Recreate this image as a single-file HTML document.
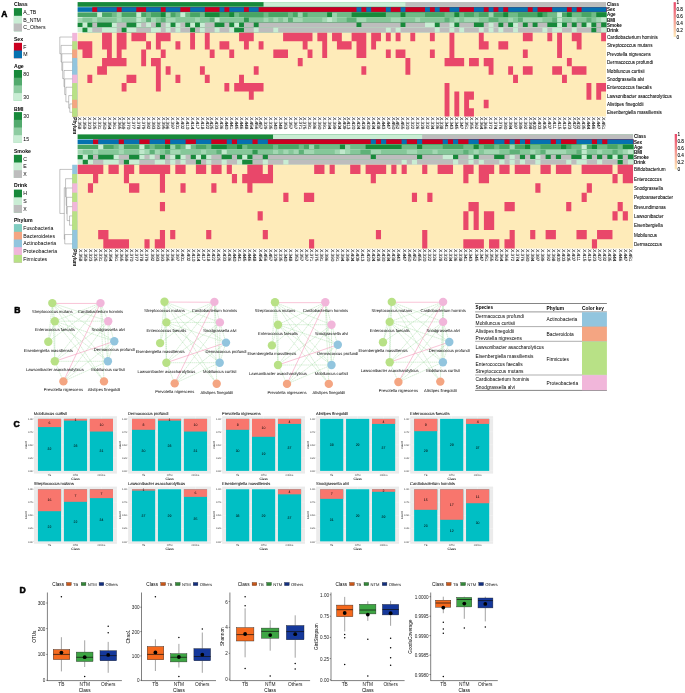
<!DOCTYPE html>
<html lang="en"><head><meta charset="utf-8"><title>Figure</title>
<style>html,body{margin:0;padding:0;background:#fff}body{width:685px;height:693px;overflow:hidden}svg{display:block}text{font-family:"Liberation Sans", Arial, sans-serif}.p{text-rendering:geometricPrecision}</style>
</head><body>
<svg width="685" height="693" viewBox="0 0 685 693">
<defs><linearGradient id="hg" x1="0" y1="0" x2="0" y2="1"><stop offset="0" stop-color="#E9476A"/><stop offset="1" stop-color="#FEEBB9"/></linearGradient></defs>
<rect width="685" height="693" fill="#fff"/>
<text x="1.2" y="17" font-size="8.5" font-weight="bold" font-family="'Liberation Sans', Arial, sans-serif" stroke="#000" stroke-width="0.55" stroke-linejoin="round">A</text>
<text x="14.2" y="313" font-size="8.6" font-weight="bold" font-family="'Liberation Sans', Arial, sans-serif" stroke="#000" stroke-width="0.55" stroke-linejoin="round">B</text>
<text x="13.5" y="426.6" font-size="8.6" font-weight="bold" font-family="'Liberation Sans', Arial, sans-serif" stroke="#000" stroke-width="0.55" stroke-linejoin="round">C</text>
<text x="19.6" y="593.1" font-size="8.6" font-weight="bold" font-family="'Liberation Sans', Arial, sans-serif" stroke="#000" stroke-width="0.55" stroke-linejoin="round">D</text>
<text x="13.9" y="6.07" font-size="5.2" font-weight="bold">Class</text>
<rect x="13.9" y="8.1" width="8.1" height="23.1" fill="#17893A"/>
<text x="23.3" y="13.82" font-size="5.2">A_TB</text>
<rect x="13.9" y="15.8" width="8.1" height="15.4" fill="#C9EDD4"/>
<text x="23.3" y="21.52" font-size="5.2">B_NTM</text>
<rect x="13.9" y="23.5" width="8.1" height="7.7" fill="#BDBDBD"/>
<text x="23.3" y="29.22" font-size="5.2">C_Others</text>
<text x="13.9" y="40.67" font-size="5.2" font-weight="bold">Sex</text>
<rect x="13.9" y="42.8" width="8.1" height="15.4" fill="#CA0020"/>
<text x="23.3" y="48.52" font-size="5.2">F</text>
<rect x="13.9" y="50.5" width="8.1" height="7.7" fill="#0571B0"/>
<text x="23.3" y="56.22" font-size="5.2">M</text>
<text x="13.9" y="68.07" font-size="5.2" font-weight="bold">Age</text>
<rect x="13.9" y="70" width="8.1" height="30.8" fill="#17893A"/>
<text x="23.3" y="75.72" font-size="5.2">80</text>
<rect x="13.9" y="77.7" width="8.1" height="23.1" fill="#52AA6D"/>
<rect x="13.9" y="85.4" width="8.1" height="15.4" fill="#8ECCA1"/>
<rect x="13.9" y="93.1" width="8.1" height="7.7" fill="#C9EDD4"/>
<text x="23.3" y="98.82" font-size="5.2">30</text>
<text x="13.9" y="110.57" font-size="5.2" font-weight="bold">BMI</text>
<rect x="13.9" y="112.1" width="8.1" height="30.8" fill="#17893A"/>
<text x="23.3" y="117.82" font-size="5.2">30</text>
<rect x="13.9" y="119.8" width="8.1" height="23.1" fill="#52AA6D"/>
<rect x="13.9" y="127.5" width="8.1" height="15.4" fill="#8ECCA1"/>
<rect x="13.9" y="135.2" width="8.1" height="7.7" fill="#C9EDD4"/>
<text x="23.3" y="140.92" font-size="5.2">15</text>
<text x="13.9" y="152.87" font-size="5.2" font-weight="bold">Smoke</text>
<rect x="13.9" y="154.8" width="8.1" height="23.1" fill="#17893A"/>
<text x="23.3" y="160.52" font-size="5.2">C</text>
<rect x="13.9" y="162.5" width="8.1" height="15.4" fill="#C9EDD4"/>
<text x="23.3" y="168.22" font-size="5.2">E</text>
<rect x="13.9" y="170.2" width="8.1" height="7.7" fill="#BDBDBD"/>
<text x="23.3" y="175.92" font-size="5.2">X</text>
<text x="13.9" y="187.37" font-size="5.2" font-weight="bold">Drink</text>
<rect x="13.9" y="189.6" width="8.1" height="23.1" fill="#17893A"/>
<text x="23.3" y="195.32" font-size="5.2">H</text>
<rect x="13.9" y="197.3" width="8.1" height="15.4" fill="#C9EDD4"/>
<text x="23.3" y="203.02" font-size="5.2">S</text>
<rect x="13.9" y="205" width="8.1" height="7.7" fill="#BDBDBD"/>
<text x="23.3" y="210.72" font-size="5.2">X</text>
<text x="13.9" y="222.17" font-size="5.2" font-weight="bold">Phylum</text>
<rect x="13.9" y="224.1" width="8.1" height="38.5" fill="#80CDC1"/>
<text x="23.3" y="229.82" font-size="5.2">Fusobacteria</text>
<rect x="13.9" y="231.8" width="8.1" height="30.8" fill="#F4A582"/>
<text x="23.3" y="237.52" font-size="5.2">Bacteroidetes</text>
<rect x="13.9" y="239.5" width="8.1" height="23.1" fill="#92C5DE"/>
<text x="23.3" y="245.22" font-size="5.2">Actinobacteria</text>
<rect x="13.9" y="247.2" width="8.1" height="15.4" fill="#F1B6DA"/>
<text x="23.3" y="252.92" font-size="5.2">Proteobacteria</text>
<rect x="13.9" y="254.9" width="8.1" height="7.7" fill="#B8E186"/>
<text x="23.3" y="260.62" font-size="5.2">Firmicutes</text>
<rect x="77.6" y="2.1" width="528.44" height="4.65" fill="#17893A"/>
<rect x="263.53" y="2.1" width="342.51" height="4.65" fill="#C9EDD4"/>
<rect x="405.43" y="2.1" width="200.61" height="4.65" fill="#BDBDBD"/>
<text x="607" y="6.15" font-size="4.5" font-weight="bold">Class</text>
<rect x="77.6" y="7.22" width="528.44" height="4.65" fill="#0571B0"/>
<rect x="92.28" y="7.22" width="513.76" height="4.65" fill="#CA0020"/>
<rect x="97.17" y="7.22" width="508.87" height="4.65" fill="#0571B0"/>
<rect x="116.74" y="7.22" width="489.3" height="4.65" fill="#CA0020"/>
<rect x="121.64" y="7.22" width="484.41" height="4.65" fill="#0571B0"/>
<rect x="136.32" y="7.22" width="469.73" height="4.65" fill="#CA0020"/>
<rect x="146.1" y="7.22" width="459.94" height="4.65" fill="#0571B0"/>
<rect x="160.78" y="7.22" width="445.26" height="4.65" fill="#CA0020"/>
<rect x="165.67" y="7.22" width="440.37" height="4.65" fill="#0571B0"/>
<rect x="180.35" y="7.22" width="425.69" height="4.65" fill="#CA0020"/>
<rect x="190.14" y="7.22" width="415.9" height="4.65" fill="#0571B0"/>
<rect x="204.82" y="7.22" width="401.23" height="4.65" fill="#CA0020"/>
<rect x="219.5" y="7.22" width="386.55" height="4.65" fill="#0571B0"/>
<rect x="224.39" y="7.22" width="381.65" height="4.65" fill="#CA0020"/>
<rect x="229.28" y="7.22" width="376.76" height="4.65" fill="#0571B0"/>
<rect x="243.96" y="7.22" width="362.08" height="4.65" fill="#CA0020"/>
<rect x="248.85" y="7.22" width="357.19" height="4.65" fill="#0571B0"/>
<rect x="258.64" y="7.22" width="347.4" height="4.65" fill="#CA0020"/>
<rect x="356.5" y="7.22" width="249.54" height="4.65" fill="#0571B0"/>
<rect x="361.39" y="7.22" width="244.65" height="4.65" fill="#CA0020"/>
<rect x="366.29" y="7.22" width="239.76" height="4.65" fill="#0571B0"/>
<rect x="371.18" y="7.22" width="234.86" height="4.65" fill="#CA0020"/>
<rect x="385.86" y="7.22" width="220.18" height="4.65" fill="#0571B0"/>
<rect x="390.75" y="7.22" width="215.29" height="4.65" fill="#CA0020"/>
<rect x="400.54" y="7.22" width="205.51" height="4.65" fill="#0571B0"/>
<rect x="405.43" y="7.22" width="200.61" height="4.65" fill="#CA0020"/>
<rect x="425" y="7.22" width="181.04" height="4.65" fill="#0571B0"/>
<rect x="429.9" y="7.22" width="176.15" height="4.65" fill="#CA0020"/>
<rect x="434.79" y="7.22" width="171.25" height="4.65" fill="#0571B0"/>
<rect x="439.68" y="7.22" width="166.36" height="4.65" fill="#CA0020"/>
<rect x="449.47" y="7.22" width="156.58" height="4.65" fill="#0571B0"/>
<rect x="459.25" y="7.22" width="146.79" height="4.65" fill="#CA0020"/>
<rect x="473.93" y="7.22" width="132.11" height="4.65" fill="#0571B0"/>
<rect x="483.72" y="7.22" width="122.33" height="4.65" fill="#CA0020"/>
<rect x="488.61" y="7.22" width="117.43" height="4.65" fill="#0571B0"/>
<rect x="493.5" y="7.22" width="112.54" height="4.65" fill="#CA0020"/>
<rect x="498.4" y="7.22" width="107.65" height="4.65" fill="#0571B0"/>
<rect x="503.29" y="7.22" width="102.75" height="4.65" fill="#CA0020"/>
<rect x="508.18" y="7.22" width="97.86" height="4.65" fill="#0571B0"/>
<rect x="527.76" y="7.22" width="78.29" height="4.65" fill="#CA0020"/>
<rect x="532.65" y="7.22" width="73.39" height="4.65" fill="#0571B0"/>
<rect x="537.54" y="7.22" width="68.5" height="4.65" fill="#CA0020"/>
<rect x="552.22" y="7.22" width="53.82" height="4.65" fill="#0571B0"/>
<rect x="566.9" y="7.22" width="39.14" height="4.65" fill="#CA0020"/>
<rect x="571.79" y="7.22" width="34.25" height="4.65" fill="#0571B0"/>
<rect x="576.69" y="7.22" width="29.36" height="4.65" fill="#CA0020"/>
<rect x="581.58" y="7.22" width="24.47" height="4.65" fill="#0571B0"/>
<text x="607" y="11.27" font-size="4.5" font-weight="bold">Sex</text>
<rect x="77.6" y="12.34" width="528.44" height="4.65" fill="#49A565"/>
<rect x="97.17" y="12.34" width="508.87" height="4.65" fill="#C9EDD4"/>
<rect x="102.06" y="12.34" width="503.98" height="4.65" fill="#49A565"/>
<rect x="111.85" y="12.34" width="494.19" height="4.65" fill="#70BB87"/>
<rect x="116.74" y="12.34" width="489.3" height="4.65" fill="#9CD4AE"/>
<rect x="121.64" y="12.34" width="484.41" height="4.65" fill="#49A565"/>
<rect x="136.32" y="12.34" width="469.73" height="4.65" fill="#C9EDD4"/>
<rect x="141.21" y="12.34" width="464.83" height="4.65" fill="#49A565"/>
<rect x="146.1" y="12.34" width="459.94" height="4.65" fill="#70BB87"/>
<rect x="151" y="12.34" width="455.05" height="4.65" fill="#49A565"/>
<rect x="160.78" y="12.34" width="445.26" height="4.65" fill="#17893A"/>
<rect x="165.67" y="12.34" width="440.37" height="4.65" fill="#9CD4AE"/>
<rect x="170.57" y="12.34" width="435.48" height="4.65" fill="#49A565"/>
<rect x="175.46" y="12.34" width="430.58" height="4.65" fill="#70BB87"/>
<rect x="180.35" y="12.34" width="425.69" height="4.65" fill="#C9EDD4"/>
<rect x="185.25" y="12.34" width="420.8" height="4.65" fill="#70BB87"/>
<rect x="190.14" y="12.34" width="415.9" height="4.65" fill="#49A565"/>
<rect x="199.92" y="12.34" width="406.12" height="4.65" fill="#70BB87"/>
<rect x="204.82" y="12.34" width="401.23" height="4.65" fill="#17893A"/>
<rect x="219.5" y="12.34" width="386.55" height="4.65" fill="#49A565"/>
<rect x="229.28" y="12.34" width="376.76" height="4.65" fill="#17893A"/>
<rect x="234.18" y="12.34" width="371.87" height="4.65" fill="#70BB87"/>
<rect x="239.07" y="12.34" width="366.98" height="4.65" fill="#49A565"/>
<rect x="263.53" y="12.34" width="342.51" height="4.65" fill="#70BB87"/>
<rect x="268.43" y="12.34" width="337.62" height="4.65" fill="#49A565"/>
<rect x="288" y="12.34" width="318.04" height="4.65" fill="#70BB87"/>
<rect x="292.89" y="12.34" width="313.15" height="4.65" fill="#49A565"/>
<rect x="297.78" y="12.34" width="308.26" height="4.65" fill="#9CD4AE"/>
<rect x="302.68" y="12.34" width="303.37" height="4.65" fill="#49A565"/>
<rect x="307.57" y="12.34" width="298.47" height="4.65" fill="#70BB87"/>
<rect x="327.14" y="12.34" width="278.9" height="4.65" fill="#17893A"/>
<rect x="332.04" y="12.34" width="274.01" height="4.65" fill="#9CD4AE"/>
<rect x="336.93" y="12.34" width="269.12" height="4.65" fill="#70BB87"/>
<rect x="351.61" y="12.34" width="254.44" height="4.65" fill="#17893A"/>
<rect x="385.86" y="12.34" width="220.18" height="4.65" fill="#70BB87"/>
<rect x="400.54" y="12.34" width="205.51" height="4.65" fill="#17893A"/>
<rect x="405.43" y="12.34" width="200.61" height="4.65" fill="#70BB87"/>
<rect x="425" y="12.34" width="181.04" height="4.65" fill="#49A565"/>
<rect x="444.57" y="12.34" width="161.47" height="4.65" fill="#70BB87"/>
<rect x="454.36" y="12.34" width="151.68" height="4.65" fill="#17893A"/>
<rect x="459.25" y="12.34" width="146.79" height="4.65" fill="#70BB87"/>
<rect x="464.15" y="12.34" width="141.9" height="4.65" fill="#49A565"/>
<rect x="473.93" y="12.34" width="132.11" height="4.65" fill="#70BB87"/>
<rect x="478.83" y="12.34" width="127.22" height="4.65" fill="#49A565"/>
<rect x="488.61" y="12.34" width="117.43" height="4.65" fill="#9CD4AE"/>
<rect x="493.5" y="12.34" width="112.54" height="4.65" fill="#49A565"/>
<rect x="503.29" y="12.34" width="102.75" height="4.65" fill="#17893A"/>
<rect x="508.18" y="12.34" width="97.86" height="4.65" fill="#70BB87"/>
<rect x="517.97" y="12.34" width="88.07" height="4.65" fill="#49A565"/>
<rect x="537.54" y="12.34" width="68.5" height="4.65" fill="#17893A"/>
<rect x="542.43" y="12.34" width="63.61" height="4.65" fill="#49A565"/>
<rect x="547.33" y="12.34" width="58.72" height="4.65" fill="#70BB87"/>
<rect x="557.11" y="12.34" width="48.93" height="4.65" fill="#C9EDD4"/>
<rect x="562.01" y="12.34" width="44.04" height="4.65" fill="#49A565"/>
<rect x="566.9" y="12.34" width="39.14" height="4.65" fill="#17893A"/>
<rect x="571.79" y="12.34" width="34.25" height="4.65" fill="#70BB87"/>
<rect x="581.58" y="12.34" width="24.47" height="4.65" fill="#49A565"/>
<rect x="591.37" y="12.34" width="14.68" height="4.65" fill="#70BB87"/>
<rect x="596.26" y="12.34" width="9.79" height="4.65" fill="#17893A"/>
<text x="607" y="16.39" font-size="4.5" font-weight="bold">Age</text>
<rect x="77.6" y="17.46" width="528.44" height="4.65" fill="#A2D7B2"/>
<rect x="82.49" y="17.46" width="523.55" height="4.65" fill="#85C799"/>
<rect x="92.28" y="17.46" width="513.76" height="4.65" fill="#A2D7B2"/>
<rect x="97.17" y="17.46" width="508.87" height="4.65" fill="#85C799"/>
<rect x="116.74" y="17.46" width="489.3" height="4.65" fill="#A2D7B2"/>
<rect x="121.64" y="17.46" width="484.41" height="4.65" fill="#85C799"/>
<rect x="136.32" y="17.46" width="469.73" height="4.65" fill="#C0E8CC"/>
<rect x="141.21" y="17.46" width="464.83" height="4.65" fill="#A2D7B2"/>
<rect x="146.1" y="17.46" width="459.94" height="4.65" fill="#5EB178"/>
<rect x="151" y="17.46" width="455.05" height="4.65" fill="#A2D7B2"/>
<rect x="155.89" y="17.46" width="450.16" height="4.65" fill="#85C799"/>
<rect x="160.78" y="17.46" width="445.26" height="4.65" fill="#5EB178"/>
<rect x="165.67" y="17.46" width="440.37" height="4.65" fill="#A2D7B2"/>
<rect x="175.46" y="17.46" width="430.58" height="4.65" fill="#85C799"/>
<rect x="195.03" y="17.46" width="411.01" height="4.65" fill="#A2D7B2"/>
<rect x="199.92" y="17.46" width="406.12" height="4.65" fill="#85C799"/>
<rect x="209.71" y="17.46" width="396.33" height="4.65" fill="#5EB178"/>
<rect x="214.6" y="17.46" width="391.44" height="4.65" fill="#C0E8CC"/>
<rect x="219.5" y="17.46" width="386.55" height="4.65" fill="#85C799"/>
<rect x="243.96" y="17.46" width="362.08" height="4.65" fill="#329851"/>
<rect x="248.85" y="17.46" width="357.19" height="4.65" fill="#85C799"/>
<rect x="263.53" y="17.46" width="342.51" height="4.65" fill="#A2D7B2"/>
<rect x="268.43" y="17.46" width="337.62" height="4.65" fill="#85C799"/>
<rect x="273.32" y="17.46" width="332.72" height="4.65" fill="#A2D7B2"/>
<rect x="278.21" y="17.46" width="327.83" height="4.65" fill="#85C799"/>
<rect x="283.11" y="17.46" width="322.94" height="4.65" fill="#A2D7B2"/>
<rect x="288" y="17.46" width="318.04" height="4.65" fill="#5EB178"/>
<rect x="292.89" y="17.46" width="313.15" height="4.65" fill="#A2D7B2"/>
<rect x="302.68" y="17.46" width="303.37" height="4.65" fill="#85C799"/>
<rect x="322.25" y="17.46" width="283.79" height="4.65" fill="#A2D7B2"/>
<rect x="327.14" y="17.46" width="278.9" height="4.65" fill="#C0E8CC"/>
<rect x="332.04" y="17.46" width="274.01" height="4.65" fill="#A2D7B2"/>
<rect x="336.93" y="17.46" width="269.12" height="4.65" fill="#85C799"/>
<rect x="346.72" y="17.46" width="259.33" height="4.65" fill="#5EB178"/>
<rect x="356.5" y="17.46" width="249.54" height="4.65" fill="#A2D7B2"/>
<rect x="366.29" y="17.46" width="239.76" height="4.65" fill="#85C799"/>
<rect x="390.75" y="17.46" width="215.29" height="4.65" fill="#A2D7B2"/>
<rect x="400.54" y="17.46" width="205.51" height="4.65" fill="#85C799"/>
<rect x="415.22" y="17.46" width="190.83" height="4.65" fill="#A2D7B2"/>
<rect x="420.11" y="17.46" width="185.93" height="4.65" fill="#85C799"/>
<rect x="444.57" y="17.46" width="161.47" height="4.65" fill="#5EB178"/>
<rect x="449.47" y="17.46" width="156.58" height="4.65" fill="#85C799"/>
<rect x="454.36" y="17.46" width="151.68" height="4.65" fill="#A2D7B2"/>
<rect x="459.25" y="17.46" width="146.79" height="4.65" fill="#85C799"/>
<rect x="464.15" y="17.46" width="141.9" height="4.65" fill="#A2D7B2"/>
<rect x="478.83" y="17.46" width="127.22" height="4.65" fill="#85C799"/>
<rect x="488.61" y="17.46" width="117.43" height="4.65" fill="#5EB178"/>
<rect x="498.4" y="17.46" width="107.65" height="4.65" fill="#85C799"/>
<rect x="508.18" y="17.46" width="97.86" height="4.65" fill="#A2D7B2"/>
<rect x="513.08" y="17.46" width="92.97" height="4.65" fill="#85C799"/>
<rect x="517.97" y="17.46" width="88.07" height="4.65" fill="#5EB178"/>
<rect x="522.86" y="17.46" width="83.18" height="4.65" fill="#A2D7B2"/>
<rect x="542.43" y="17.46" width="63.61" height="4.65" fill="#85C799"/>
<rect x="552.22" y="17.46" width="53.82" height="4.65" fill="#5EB178"/>
<rect x="557.11" y="17.46" width="48.93" height="4.65" fill="#C0E8CC"/>
<rect x="562.01" y="17.46" width="44.04" height="4.65" fill="#85C799"/>
<rect x="571.79" y="17.46" width="34.25" height="4.65" fill="#A2D7B2"/>
<rect x="576.69" y="17.46" width="29.36" height="4.65" fill="#85C799"/>
<rect x="586.47" y="17.46" width="19.57" height="4.65" fill="#5EB178"/>
<rect x="591.37" y="17.46" width="14.68" height="4.65" fill="#85C799"/>
<rect x="596.26" y="17.46" width="9.79" height="4.65" fill="#A2D7B2"/>
<rect x="601.15" y="17.46" width="4.89" height="4.65" fill="#C0E8CC"/>
<text x="607" y="21.51" font-size="4.5" font-weight="bold">BMI</text>
<rect x="77.6" y="22.58" width="528.44" height="4.65" fill="#17893A"/>
<rect x="82.49" y="22.58" width="523.55" height="4.65" fill="#C9EDD4"/>
<rect x="87.39" y="22.58" width="518.66" height="4.65" fill="#17893A"/>
<rect x="92.28" y="22.58" width="513.76" height="4.65" fill="#BDBDBD"/>
<rect x="97.17" y="22.58" width="508.87" height="4.65" fill="#17893A"/>
<rect x="111.85" y="22.58" width="494.19" height="4.65" fill="#C9EDD4"/>
<rect x="116.74" y="22.58" width="489.3" height="4.65" fill="#BDBDBD"/>
<rect x="126.53" y="22.58" width="479.51" height="4.65" fill="#17893A"/>
<rect x="136.32" y="22.58" width="469.73" height="4.65" fill="#C9EDD4"/>
<rect x="141.21" y="22.58" width="464.83" height="4.65" fill="#BDBDBD"/>
<rect x="146.1" y="22.58" width="459.94" height="4.65" fill="#C9EDD4"/>
<rect x="151" y="22.58" width="455.05" height="4.65" fill="#BDBDBD"/>
<rect x="155.89" y="22.58" width="450.16" height="4.65" fill="#17893A"/>
<rect x="160.78" y="22.58" width="445.26" height="4.65" fill="#BDBDBD"/>
<rect x="165.67" y="22.58" width="440.37" height="4.65" fill="#C9EDD4"/>
<rect x="170.57" y="22.58" width="435.48" height="4.65" fill="#17893A"/>
<rect x="175.46" y="22.58" width="430.58" height="4.65" fill="#C9EDD4"/>
<rect x="180.35" y="22.58" width="425.69" height="4.65" fill="#BDBDBD"/>
<rect x="185.25" y="22.58" width="420.8" height="4.65" fill="#17893A"/>
<rect x="190.14" y="22.58" width="415.9" height="4.65" fill="#C9EDD4"/>
<rect x="195.03" y="22.58" width="411.01" height="4.65" fill="#17893A"/>
<rect x="199.92" y="22.58" width="406.12" height="4.65" fill="#C9EDD4"/>
<rect x="204.82" y="22.58" width="401.23" height="4.65" fill="#BDBDBD"/>
<rect x="214.6" y="22.58" width="391.44" height="4.65" fill="#17893A"/>
<rect x="224.39" y="22.58" width="381.65" height="4.65" fill="#BDBDBD"/>
<rect x="229.28" y="22.58" width="376.76" height="4.65" fill="#17893A"/>
<rect x="234.18" y="22.58" width="371.87" height="4.65" fill="#C9EDD4"/>
<rect x="239.07" y="22.58" width="366.98" height="4.65" fill="#17893A"/>
<rect x="243.96" y="22.58" width="362.08" height="4.65" fill="#BDBDBD"/>
<rect x="253.75" y="22.58" width="352.3" height="4.65" fill="#17893A"/>
<rect x="258.64" y="22.58" width="347.4" height="4.65" fill="#BDBDBD"/>
<rect x="356.5" y="22.58" width="249.54" height="4.65" fill="#17893A"/>
<rect x="361.39" y="22.58" width="244.65" height="4.65" fill="#BDBDBD"/>
<rect x="400.54" y="22.58" width="205.51" height="4.65" fill="#17893A"/>
<rect x="405.43" y="22.58" width="200.61" height="4.65" fill="#BDBDBD"/>
<rect x="425" y="22.58" width="181.04" height="4.65" fill="#C9EDD4"/>
<rect x="434.79" y="22.58" width="171.25" height="4.65" fill="#17893A"/>
<rect x="439.68" y="22.58" width="166.36" height="4.65" fill="#BDBDBD"/>
<rect x="449.47" y="22.58" width="156.58" height="4.65" fill="#C9EDD4"/>
<rect x="454.36" y="22.58" width="151.68" height="4.65" fill="#17893A"/>
<rect x="459.25" y="22.58" width="146.79" height="4.65" fill="#BDBDBD"/>
<rect x="473.93" y="22.58" width="132.11" height="4.65" fill="#17893A"/>
<rect x="483.72" y="22.58" width="122.33" height="4.65" fill="#BDBDBD"/>
<rect x="488.61" y="22.58" width="117.43" height="4.65" fill="#C9EDD4"/>
<rect x="493.5" y="22.58" width="112.54" height="4.65" fill="#BDBDBD"/>
<rect x="498.4" y="22.58" width="107.65" height="4.65" fill="#17893A"/>
<rect x="503.29" y="22.58" width="102.75" height="4.65" fill="#BDBDBD"/>
<rect x="508.18" y="22.58" width="97.86" height="4.65" fill="#17893A"/>
<rect x="513.08" y="22.58" width="92.97" height="4.65" fill="#C9EDD4"/>
<rect x="517.97" y="22.58" width="88.07" height="4.65" fill="#BDBDBD"/>
<rect x="522.86" y="22.58" width="83.18" height="4.65" fill="#17893A"/>
<rect x="527.76" y="22.58" width="78.29" height="4.65" fill="#BDBDBD"/>
<rect x="532.65" y="22.58" width="73.39" height="4.65" fill="#17893A"/>
<rect x="537.54" y="22.58" width="68.5" height="4.65" fill="#BDBDBD"/>
<rect x="547.33" y="22.58" width="58.72" height="4.65" fill="#17893A"/>
<rect x="557.11" y="22.58" width="48.93" height="4.65" fill="#C9EDD4"/>
<rect x="562.01" y="22.58" width="44.04" height="4.65" fill="#17893A"/>
<rect x="566.9" y="22.58" width="39.14" height="4.65" fill="#BDBDBD"/>
<rect x="571.79" y="22.58" width="34.25" height="4.65" fill="#17893A"/>
<rect x="576.69" y="22.58" width="29.36" height="4.65" fill="#BDBDBD"/>
<rect x="581.58" y="22.58" width="24.47" height="4.65" fill="#17893A"/>
<rect x="586.47" y="22.58" width="19.57" height="4.65" fill="#C9EDD4"/>
<rect x="591.37" y="22.58" width="14.68" height="4.65" fill="#17893A"/>
<rect x="596.26" y="22.58" width="9.79" height="4.65" fill="#BDBDBD"/>
<rect x="601.15" y="22.58" width="4.89" height="4.65" fill="#17893A"/>
<text x="607" y="26.63" font-size="4.5" font-weight="bold">Smoke</text>
<rect x="77.6" y="27.7" width="528.44" height="4.65" fill="#C9EDD4"/>
<rect x="82.49" y="27.7" width="523.55" height="4.65" fill="#17893A"/>
<rect x="87.39" y="27.7" width="518.66" height="4.65" fill="#C9EDD4"/>
<rect x="92.28" y="27.7" width="513.76" height="4.65" fill="#BDBDBD"/>
<rect x="102.06" y="27.7" width="503.98" height="4.65" fill="#C9EDD4"/>
<rect x="116.74" y="27.7" width="489.3" height="4.65" fill="#BDBDBD"/>
<rect x="121.64" y="27.7" width="484.41" height="4.65" fill="#17893A"/>
<rect x="126.53" y="27.7" width="479.51" height="4.65" fill="#C9EDD4"/>
<rect x="136.32" y="27.7" width="469.73" height="4.65" fill="#BDBDBD"/>
<rect x="151" y="27.7" width="455.05" height="4.65" fill="#C9EDD4"/>
<rect x="160.78" y="27.7" width="445.26" height="4.65" fill="#BDBDBD"/>
<rect x="165.67" y="27.7" width="440.37" height="4.65" fill="#C9EDD4"/>
<rect x="170.57" y="27.7" width="435.48" height="4.65" fill="#BDBDBD"/>
<rect x="175.46" y="27.7" width="430.58" height="4.65" fill="#C9EDD4"/>
<rect x="180.35" y="27.7" width="425.69" height="4.65" fill="#BDBDBD"/>
<rect x="190.14" y="27.7" width="415.9" height="4.65" fill="#17893A"/>
<rect x="195.03" y="27.7" width="411.01" height="4.65" fill="#BDBDBD"/>
<rect x="199.92" y="27.7" width="406.12" height="4.65" fill="#C9EDD4"/>
<rect x="204.82" y="27.7" width="401.23" height="4.65" fill="#BDBDBD"/>
<rect x="214.6" y="27.7" width="391.44" height="4.65" fill="#C9EDD4"/>
<rect x="219.5" y="27.7" width="386.55" height="4.65" fill="#BDBDBD"/>
<rect x="229.28" y="27.7" width="376.76" height="4.65" fill="#C9EDD4"/>
<rect x="234.18" y="27.7" width="371.87" height="4.65" fill="#17893A"/>
<rect x="243.96" y="27.7" width="362.08" height="4.65" fill="#BDBDBD"/>
<rect x="253.75" y="27.7" width="352.3" height="4.65" fill="#C9EDD4"/>
<rect x="258.64" y="27.7" width="347.4" height="4.65" fill="#BDBDBD"/>
<rect x="273.32" y="27.7" width="332.72" height="4.65" fill="#C9EDD4"/>
<rect x="278.21" y="27.7" width="327.83" height="4.65" fill="#BDBDBD"/>
<rect x="385.86" y="27.7" width="220.18" height="4.65" fill="#C9EDD4"/>
<rect x="390.75" y="27.7" width="215.29" height="4.65" fill="#BDBDBD"/>
<rect x="395.64" y="27.7" width="210.4" height="4.65" fill="#C9EDD4"/>
<rect x="400.54" y="27.7" width="205.51" height="4.65" fill="#BDBDBD"/>
<rect x="434.79" y="27.7" width="171.25" height="4.65" fill="#C9EDD4"/>
<rect x="439.68" y="27.7" width="166.36" height="4.65" fill="#BDBDBD"/>
<rect x="449.47" y="27.7" width="156.58" height="4.65" fill="#C9EDD4"/>
<rect x="454.36" y="27.7" width="151.68" height="4.65" fill="#BDBDBD"/>
<rect x="459.25" y="27.7" width="146.79" height="4.65" fill="#C9EDD4"/>
<rect x="464.15" y="27.7" width="141.9" height="4.65" fill="#BDBDBD"/>
<rect x="478.83" y="27.7" width="127.22" height="4.65" fill="#C9EDD4"/>
<rect x="483.72" y="27.7" width="122.33" height="4.65" fill="#BDBDBD"/>
<rect x="488.61" y="27.7" width="117.43" height="4.65" fill="#C9EDD4"/>
<rect x="493.5" y="27.7" width="112.54" height="4.65" fill="#BDBDBD"/>
<rect x="498.4" y="27.7" width="107.65" height="4.65" fill="#C9EDD4"/>
<rect x="503.29" y="27.7" width="102.75" height="4.65" fill="#BDBDBD"/>
<rect x="513.08" y="27.7" width="92.97" height="4.65" fill="#C9EDD4"/>
<rect x="517.97" y="27.7" width="88.07" height="4.65" fill="#BDBDBD"/>
<rect x="542.43" y="27.7" width="63.61" height="4.65" fill="#C9EDD4"/>
<rect x="547.33" y="27.7" width="58.72" height="4.65" fill="#BDBDBD"/>
<rect x="552.22" y="27.7" width="53.82" height="4.65" fill="#C9EDD4"/>
<rect x="562.01" y="27.7" width="44.04" height="4.65" fill="#BDBDBD"/>
<rect x="571.79" y="27.7" width="34.25" height="4.65" fill="#C9EDD4"/>
<rect x="576.69" y="27.7" width="29.36" height="4.65" fill="#BDBDBD"/>
<rect x="591.37" y="27.7" width="14.68" height="4.65" fill="#17893A"/>
<rect x="596.26" y="27.7" width="9.79" height="4.65" fill="#BDBDBD"/>
<rect x="601.15" y="27.7" width="4.89" height="4.65" fill="#C9EDD4"/>
<text x="607" y="31.75" font-size="4.5" font-weight="bold">Drink</text>
<rect x="77.6" y="32.85" width="528.44" height="83.65" fill="#FEEBB9"/>
<path d="M102.06 32.85h9.79v8.37h-9.79zM116.74 32.85h9.79v8.37h-9.79zM131.42 32.85h14.68v8.37h-14.68zM155.89 32.85h14.68v8.37h-14.68zM190.14 32.85h4.89v8.37h-4.89zM204.82 32.85h4.89v8.37h-4.89zM239.07 32.85h14.68v8.37h-14.68zM283.11 32.85h29.36v8.37h-29.36zM317.36 32.85h9.79v8.37h-9.79zM332.04 32.85h9.79v8.37h-9.79zM351.61 32.85h14.68v8.37h-14.68zM371.18 32.85h9.79v8.37h-9.79zM385.86 32.85h4.89v8.37h-4.89zM395.64 32.85h4.89v8.37h-4.89zM410.32 32.85h4.89v8.37h-4.89zM429.9 32.85h4.89v8.37h-4.89zM449.47 32.85h4.89v8.37h-4.89zM478.83 32.85h4.89v8.37h-4.89zM522.86 32.85h9.79v8.37h-9.79zM547.33 32.85h4.89v8.37h-4.89zM557.11 32.85h4.89v8.37h-4.89zM571.79 32.85h9.79v8.37h-9.79zM601.15 32.85h4.89v8.37h-4.89zM77.6 41.22h14.68v8.37h-14.68zM102.06 41.22h9.79v8.37h-9.79zM116.74 41.22h9.79v8.37h-9.79zM146.1 41.22h4.89v8.37h-4.89zM155.89 41.22h4.89v8.37h-4.89zM175.46 41.22h4.89v8.37h-4.89zM190.14 41.22h4.89v8.37h-4.89zM204.82 41.22h4.89v8.37h-4.89zM219.5 41.22h9.79v8.37h-9.79zM243.96 41.22h4.89v8.37h-4.89zM258.64 41.22h4.89v8.37h-4.89zM302.68 41.22h4.89v8.37h-4.89zM322.25 41.22h4.89v8.37h-4.89zM336.93 41.22h14.68v8.37h-14.68zM356.5 41.22h9.79v8.37h-9.79zM371.18 41.22h4.89v8.37h-4.89zM449.47 41.22h4.89v8.37h-4.89zM478.83 41.22h9.79v8.37h-9.79zM498.4 41.22h9.79v8.37h-9.79zM557.11 41.22h4.89v8.37h-4.89zM576.69 41.22h4.89v8.37h-4.89zM82.49 49.58h9.79v8.37h-9.79zM106.96 49.58h4.89v8.37h-4.89zM116.74 49.58h4.89v8.37h-4.89zM141.21 49.58h4.89v8.37h-4.89zM160.78 49.58h4.89v8.37h-4.89zM209.71 49.58h4.89v8.37h-4.89zM229.28 49.58h4.89v8.37h-4.89zM273.32 49.58h14.68v8.37h-14.68zM307.57 49.58h4.89v8.37h-4.89zM322.25 49.58h4.89v8.37h-4.89zM356.5 49.58h9.79v8.37h-9.79zM385.86 49.58h4.89v8.37h-4.89zM395.64 49.58h9.79v8.37h-9.79zM429.9 49.58h4.89v8.37h-4.89zM449.47 49.58h4.89v8.37h-4.89zM522.86 49.58h4.89v8.37h-4.89zM557.11 49.58h4.89v8.37h-4.89zM102.06 57.95h24.46v8.37h-24.46zM141.21 57.95h4.89v8.37h-4.89zM151 57.95h9.79v8.37h-9.79zM297.78 57.95h4.89v8.37h-4.89zM405.43 57.95h4.89v8.37h-4.89zM444.57 57.95h19.57v8.37h-19.57zM469.04 57.95h9.79v8.37h-9.79zM483.72 57.95h9.79v8.37h-9.79zM566.9 57.95h4.89v8.37h-4.89zM97.17 66.31h9.79v8.37h-9.79zM155.89 66.31h4.89v8.37h-4.89zM165.67 66.31h4.89v8.37h-4.89zM199.92 66.31h4.89v8.37h-4.89zM253.75 66.31h4.89v8.37h-4.89zM361.39 66.31h4.89v8.37h-4.89zM405.43 66.31h4.89v8.37h-4.89zM488.61 66.31h4.89v8.37h-4.89zM508.18 66.31h4.89v8.37h-4.89zM522.86 66.31h9.79v8.37h-9.79zM552.22 66.31h9.79v8.37h-9.79zM571.79 66.31h14.68v8.37h-14.68zM87.39 74.68h4.89v8.37h-4.89zM126.53 74.68h9.79v8.37h-9.79zM155.89 74.68h4.89v8.37h-4.89zM175.46 74.68h4.89v8.37h-4.89zM204.82 74.68h4.89v8.37h-4.89zM239.07 74.68h4.89v8.37h-4.89zM513.08 74.68h4.89v8.37h-4.89zM562.01 74.68h4.89v8.37h-4.89zM121.64 83.04h4.89v8.37h-4.89zM155.89 83.04h4.89v8.37h-4.89zM224.39 83.04h4.89v8.37h-4.89zM234.18 83.04h29.36v8.37h-29.36zM444.57 83.04h4.89v8.37h-4.89zM586.47 83.04h4.89v8.37h-4.89zM596.26 83.04h9.79v8.37h-9.79zM248.85 91.41h4.89v8.37h-4.89zM444.57 91.41h4.89v8.37h-4.89zM454.36 91.41h4.89v8.37h-4.89zM464.15 91.41h9.79v8.37h-9.79zM586.47 91.41h4.89v8.37h-4.89zM596.26 91.41h4.89v8.37h-4.89zM444.57 99.77h4.89v8.37h-4.89zM454.36 99.77h4.89v8.37h-4.89zM464.15 99.77h4.89v8.37h-4.89zM483.72 99.77h4.89v8.37h-4.89zM444.57 108.13h4.89v8.37h-4.89zM454.36 108.13h4.89v8.37h-4.89zM464.15 108.13h9.79v8.37h-9.79z" fill="#E9476A"/>
<rect x="72.2" y="32.85" width="5" height="83.65" fill="#F1B6DA"/>
<rect x="72.2" y="41.22" width="5" height="75.28" fill="#B8E186"/>
<rect x="72.2" y="49.58" width="5" height="66.92" fill="#F4A582"/>
<rect x="72.2" y="57.95" width="5" height="58.55" fill="#92C5DE"/>
<rect x="72.2" y="66.31" width="5" height="50.19" fill="#92C5DE"/>
<rect x="72.2" y="74.68" width="5" height="41.82" fill="#F1B6DA"/>
<rect x="72.2" y="83.04" width="5" height="33.46" fill="#B8E186"/>
<rect x="72.2" y="91.41" width="5" height="25.09" fill="#B8E186"/>
<rect x="72.2" y="99.77" width="5" height="16.73" fill="#F4A582"/>
<rect x="72.2" y="108.13" width="5" height="8.37" fill="#B8E186"/>
<text x="607" y="39.05" font-size="4.6" stroke="#000" stroke-width="0.05">Cardiobacterium hominis</text>
<text x="607" y="47.42" font-size="4.6" stroke="#000" stroke-width="0.05">Streptococcus mutans</text>
<text x="607" y="55.78" font-size="4.6" stroke="#000" stroke-width="0.05">Prevotella nigrescens</text>
<text x="607" y="64.15" font-size="4.6" stroke="#000" stroke-width="0.05">Dermacoccus profundi</text>
<text x="607" y="72.51" font-size="4.6" stroke="#000" stroke-width="0.05">Mobiluncus curtisii</text>
<text x="607" y="80.88" font-size="4.6" stroke="#000" stroke-width="0.05">Snodgrassella alvi</text>
<text x="607" y="89.24" font-size="4.6" stroke="#000" stroke-width="0.05">Enterococcus faecalis</text>
<text x="607" y="97.61" font-size="4.6" stroke="#000" stroke-width="0.05">Lawsonibacter asaccharolyticus</text>
<text x="607" y="105.97" font-size="4.6" stroke="#000" stroke-width="0.05">Alistipes finegoldii</text>
<text x="607" y="114.34" font-size="4.6" stroke="#000" stroke-width="0.05">Eisenbergiella massiliensis</text>
<g class="p" stroke="#000" stroke-width="0.04" font-size="4.65">
<text transform="translate(78.37,117.2) rotate(90)">X.358</text>
<text transform="translate(83.27,117.2) rotate(90)">X.359</text>
<text transform="translate(88.16,117.2) rotate(90)">X.323</text>
<text transform="translate(93.05,117.2) rotate(90)">X.325</text>
<text transform="translate(97.94,117.2) rotate(90)">X.331</text>
<text transform="translate(102.84,117.2) rotate(90)">X.350</text>
<text transform="translate(107.73,117.2) rotate(90)">X.354</text>
<text transform="translate(112.62,117.2) rotate(90)">X.361</text>
<text transform="translate(117.52,117.2) rotate(90)">X.365</text>
<text transform="translate(122.41,117.2) rotate(90)">X.369</text>
<text transform="translate(127.3,117.2) rotate(90)">X.370</text>
<text transform="translate(132.2,117.2) rotate(90)">X.377</text>
<text transform="translate(137.09,117.2) rotate(90)">X.378</text>
<text transform="translate(141.98,117.2) rotate(90)">X.379</text>
<text transform="translate(146.87,117.2) rotate(90)">X.382</text>
<text transform="translate(151.77,117.2) rotate(90)">X.383</text>
<text transform="translate(156.66,117.2) rotate(90)">X.393</text>
<text transform="translate(161.55,117.2) rotate(90)">X.395</text>
<text transform="translate(166.45,117.2) rotate(90)">X.396</text>
<text transform="translate(171.34,117.2) rotate(90)">X.397</text>
<text transform="translate(176.23,117.2) rotate(90)">X.401</text>
<text transform="translate(181.13,117.2) rotate(90)">X.402</text>
<text transform="translate(186.02,117.2) rotate(90)">X.410</text>
<text transform="translate(190.91,117.2) rotate(90)">X.414</text>
<text transform="translate(195.8,117.2) rotate(90)">X.417</text>
<text transform="translate(200.7,117.2) rotate(90)">X.418</text>
<text transform="translate(205.59,117.2) rotate(90)">X.422</text>
<text transform="translate(210.48,117.2) rotate(90)">X.425</text>
<text transform="translate(215.38,117.2) rotate(90)">X.433</text>
<text transform="translate(220.27,117.2) rotate(90)">X.436</text>
<text transform="translate(225.16,117.2) rotate(90)">X.440</text>
<text transform="translate(230.06,117.2) rotate(90)">X.441</text>
<text transform="translate(234.95,117.2) rotate(90)">X.445</text>
<text transform="translate(239.84,117.2) rotate(90)">X.446</text>
<text transform="translate(244.73,117.2) rotate(90)">X.448</text>
<text transform="translate(249.63,117.2) rotate(90)">X.454</text>
<text transform="translate(254.52,117.2) rotate(90)">X.456</text>
<text transform="translate(259.41,117.2) rotate(90)">X.457</text>
<text transform="translate(264.31,117.2) rotate(90)">X.329</text>
<text transform="translate(269.2,117.2) rotate(90)">X.335</text>
<text transform="translate(274.09,117.2) rotate(90)">X.340</text>
<text transform="translate(278.99,117.2) rotate(90)">X.348</text>
<text transform="translate(283.88,117.2) rotate(90)">X.353</text>
<text transform="translate(288.77,117.2) rotate(90)">X.357</text>
<text transform="translate(293.66,117.2) rotate(90)">X.367</text>
<text transform="translate(298.56,117.2) rotate(90)">X.371</text>
<text transform="translate(303.45,117.2) rotate(90)">X.375</text>
<text transform="translate(308.34,117.2) rotate(90)">X.381</text>
<text transform="translate(313.24,117.2) rotate(90)">X.386</text>
<text transform="translate(318.13,117.2) rotate(90)">X.390</text>
<text transform="translate(323.02,117.2) rotate(90)">X.391</text>
<text transform="translate(327.92,117.2) rotate(90)">X.394</text>
<text transform="translate(332.81,117.2) rotate(90)">X.399</text>
<text transform="translate(337.7,117.2) rotate(90)">X.404</text>
<text transform="translate(342.59,117.2) rotate(90)">X.409</text>
<text transform="translate(347.49,117.2) rotate(90)">X.413</text>
<text transform="translate(352.38,117.2) rotate(90)">X.420</text>
<text transform="translate(357.27,117.2) rotate(90)">X.424</text>
<text transform="translate(362.17,117.2) rotate(90)">X.428</text>
<text transform="translate(367.06,117.2) rotate(90)">X.430</text>
<text transform="translate(371.95,117.2) rotate(90)">X.434</text>
<text transform="translate(376.85,117.2) rotate(90)">X.438</text>
<text transform="translate(381.74,117.2) rotate(90)">X.443</text>
<text transform="translate(386.63,117.2) rotate(90)">X.447</text>
<text transform="translate(391.52,117.2) rotate(90)">X.450</text>
<text transform="translate(396.42,117.2) rotate(90)">X.452</text>
<text transform="translate(401.31,117.2) rotate(90)">X.455</text>
<text transform="translate(406.2,117.2) rotate(90)">X.320</text>
<text transform="translate(411.1,117.2) rotate(90)">X.322</text>
<text transform="translate(415.99,117.2) rotate(90)">X.326</text>
<text transform="translate(420.88,117.2) rotate(90)">X.328</text>
<text transform="translate(425.78,117.2) rotate(90)">X.332</text>
<text transform="translate(430.67,117.2) rotate(90)">X.334</text>
<text transform="translate(435.56,117.2) rotate(90)">X.336</text>
<text transform="translate(440.45,117.2) rotate(90)">X.338</text>
<text transform="translate(445.35,117.2) rotate(90)">X.341</text>
<text transform="translate(450.24,117.2) rotate(90)">X.343</text>
<text transform="translate(455.13,117.2) rotate(90)">X.345</text>
<text transform="translate(460.03,117.2) rotate(90)">X.347</text>
<text transform="translate(464.92,117.2) rotate(90)">X.351</text>
<text transform="translate(469.81,117.2) rotate(90)">X.355</text>
<text transform="translate(474.71,117.2) rotate(90)">X.362</text>
<text transform="translate(479.6,117.2) rotate(90)">X.364</text>
<text transform="translate(484.49,117.2) rotate(90)">X.366</text>
<text transform="translate(489.38,117.2) rotate(90)">X.372</text>
<text transform="translate(494.28,117.2) rotate(90)">X.374</text>
<text transform="translate(499.17,117.2) rotate(90)">X.376</text>
<text transform="translate(504.06,117.2) rotate(90)">X.380</text>
<text transform="translate(508.96,117.2) rotate(90)">X.384</text>
<text transform="translate(513.85,117.2) rotate(90)">X.387</text>
<text transform="translate(518.74,117.2) rotate(90)">X.389</text>
<text transform="translate(523.64,117.2) rotate(90)">X.392</text>
<text transform="translate(528.53,117.2) rotate(90)">X.398</text>
<text transform="translate(533.42,117.2) rotate(90)">X.400</text>
<text transform="translate(538.31,117.2) rotate(90)">X.403</text>
<text transform="translate(543.21,117.2) rotate(90)">X.405</text>
<text transform="translate(548.1,117.2) rotate(90)">X.407</text>
<text transform="translate(552.99,117.2) rotate(90)">X.411</text>
<text transform="translate(557.89,117.2) rotate(90)">X.415</text>
<text transform="translate(562.78,117.2) rotate(90)">X.419</text>
<text transform="translate(567.67,117.2) rotate(90)">X.423</text>
<text transform="translate(572.57,117.2) rotate(90)">X.427</text>
<text transform="translate(577.46,117.2) rotate(90)">X.432</text>
<text transform="translate(582.35,117.2) rotate(90)">X.435</text>
<text transform="translate(587.24,117.2) rotate(90)">X.444</text>
<text transform="translate(592.14,117.2) rotate(90)">X.446</text>
<text transform="translate(597.03,117.2) rotate(90)">X.447</text>
<text transform="translate(601.92,117.2) rotate(90)">X.451</text>
</g>
<text transform="translate(73.01,117.3) rotate(90)" font-size="4.7" font-weight="bold">Phylum</text>
<path d="M72.2 37.03H59.8V53.73H61.1M72.2 45.4H61.1V62.06H61.8M72.2 53.76H61.8V70.36H62.7M72.2 62.13H62.7V78.6H64M72.2 70.49H64V86.7H64.7M72.2 78.86H64.7V94.54H65.9M72.2 87.22H65.9V101.86H68.7M72.2 95.59H68.7V108.14H69.8M72.2 103.95H69.8V112.32H72.2" fill="none" stroke="#555" stroke-width="0.35"/>
<rect x="673.6" y="2.2" width="2.3" height="34.8" fill="url(#hg)"/>
<text x="676.4" y="3.79" font-size="4.7" stroke="#000" stroke-width="0.08">1</text>
<text x="676.4" y="10.75" font-size="4.7" stroke="#000" stroke-width="0.08">0.8</text>
<text x="676.4" y="17.71" font-size="4.7" stroke="#000" stroke-width="0.08">0.6</text>
<text x="676.4" y="24.67" font-size="4.7" stroke="#000" stroke-width="0.08">0.4</text>
<text x="676.4" y="31.63" font-size="4.7" stroke="#000" stroke-width="0.08">0.2</text>
<text x="676.4" y="38.59" font-size="4.7" stroke="#000" stroke-width="0.08">0</text>
<rect x="77.6" y="134.4" width="555.44" height="4.65" fill="#17893A"/>
<rect x="273.03" y="134.4" width="360.01" height="4.65" fill="#C9EDD4"/>
<rect x="422.18" y="134.4" width="210.86" height="4.65" fill="#BDBDBD"/>
<text x="633.9" y="138.44" font-size="4.5" font-weight="bold">Class</text>
<rect x="77.6" y="139.5" width="555.44" height="4.65" fill="#0571B0"/>
<rect x="93.03" y="139.5" width="540.01" height="4.65" fill="#CA0020"/>
<rect x="98.17" y="139.5" width="534.87" height="4.65" fill="#0571B0"/>
<rect x="118.74" y="139.5" width="514.3" height="4.65" fill="#CA0020"/>
<rect x="123.89" y="139.5" width="509.16" height="4.65" fill="#0571B0"/>
<rect x="139.32" y="139.5" width="493.73" height="4.65" fill="#CA0020"/>
<rect x="149.6" y="139.5" width="483.44" height="4.65" fill="#0571B0"/>
<rect x="165.03" y="139.5" width="468.01" height="4.65" fill="#CA0020"/>
<rect x="170.17" y="139.5" width="462.87" height="4.65" fill="#0571B0"/>
<rect x="185.6" y="139.5" width="447.44" height="4.65" fill="#CA0020"/>
<rect x="195.89" y="139.5" width="437.15" height="4.65" fill="#0571B0"/>
<rect x="211.32" y="139.5" width="421.73" height="4.65" fill="#CA0020"/>
<rect x="226.75" y="139.5" width="406.3" height="4.65" fill="#0571B0"/>
<rect x="231.89" y="139.5" width="401.15" height="4.65" fill="#CA0020"/>
<rect x="237.03" y="139.5" width="396.01" height="4.65" fill="#0571B0"/>
<rect x="252.46" y="139.5" width="380.58" height="4.65" fill="#CA0020"/>
<rect x="257.61" y="139.5" width="375.44" height="4.65" fill="#0571B0"/>
<rect x="267.89" y="139.5" width="365.15" height="4.65" fill="#CA0020"/>
<rect x="370.75" y="139.5" width="262.29" height="4.65" fill="#0571B0"/>
<rect x="375.89" y="139.5" width="257.15" height="4.65" fill="#CA0020"/>
<rect x="381.04" y="139.5" width="252.01" height="4.65" fill="#0571B0"/>
<rect x="386.18" y="139.5" width="246.86" height="4.65" fill="#CA0020"/>
<rect x="401.61" y="139.5" width="231.43" height="4.65" fill="#0571B0"/>
<rect x="406.75" y="139.5" width="226.29" height="4.65" fill="#CA0020"/>
<rect x="417.04" y="139.5" width="216.01" height="4.65" fill="#0571B0"/>
<rect x="422.18" y="139.5" width="210.86" height="4.65" fill="#CA0020"/>
<rect x="442.75" y="139.5" width="190.29" height="4.65" fill="#0571B0"/>
<rect x="447.9" y="139.5" width="185.15" height="4.65" fill="#CA0020"/>
<rect x="453.04" y="139.5" width="180" height="4.65" fill="#0571B0"/>
<rect x="458.18" y="139.5" width="174.86" height="4.65" fill="#CA0020"/>
<rect x="468.47" y="139.5" width="164.58" height="4.65" fill="#0571B0"/>
<rect x="478.75" y="139.5" width="154.29" height="4.65" fill="#CA0020"/>
<rect x="494.18" y="139.5" width="138.86" height="4.65" fill="#0571B0"/>
<rect x="504.47" y="139.5" width="128.58" height="4.65" fill="#CA0020"/>
<rect x="509.61" y="139.5" width="123.43" height="4.65" fill="#0571B0"/>
<rect x="514.75" y="139.5" width="118.29" height="4.65" fill="#CA0020"/>
<rect x="519.9" y="139.5" width="113.15" height="4.65" fill="#0571B0"/>
<rect x="525.04" y="139.5" width="108" height="4.65" fill="#CA0020"/>
<rect x="530.18" y="139.5" width="102.86" height="4.65" fill="#0571B0"/>
<rect x="550.76" y="139.5" width="82.29" height="4.65" fill="#CA0020"/>
<rect x="555.9" y="139.5" width="77.14" height="4.65" fill="#0571B0"/>
<rect x="561.04" y="139.5" width="72" height="4.65" fill="#CA0020"/>
<rect x="576.47" y="139.5" width="56.57" height="4.65" fill="#0571B0"/>
<rect x="591.9" y="139.5" width="41.14" height="4.65" fill="#CA0020"/>
<rect x="597.04" y="139.5" width="36" height="4.65" fill="#0571B0"/>
<rect x="602.19" y="139.5" width="30.86" height="4.65" fill="#CA0020"/>
<rect x="607.33" y="139.5" width="25.72" height="4.65" fill="#0571B0"/>
<text x="633.9" y="143.54" font-size="4.5" font-weight="bold">Sex</text>
<rect x="77.6" y="144.6" width="555.44" height="4.65" fill="#49A565"/>
<rect x="98.17" y="144.6" width="534.87" height="4.65" fill="#C9EDD4"/>
<rect x="103.31" y="144.6" width="529.73" height="4.65" fill="#49A565"/>
<rect x="113.6" y="144.6" width="519.44" height="4.65" fill="#70BB87"/>
<rect x="118.74" y="144.6" width="514.3" height="4.65" fill="#9CD4AE"/>
<rect x="123.89" y="144.6" width="509.16" height="4.65" fill="#49A565"/>
<rect x="139.32" y="144.6" width="493.73" height="4.65" fill="#C9EDD4"/>
<rect x="144.46" y="144.6" width="488.58" height="4.65" fill="#49A565"/>
<rect x="149.6" y="144.6" width="483.44" height="4.65" fill="#70BB87"/>
<rect x="154.75" y="144.6" width="478.3" height="4.65" fill="#49A565"/>
<rect x="165.03" y="144.6" width="468.01" height="4.65" fill="#17893A"/>
<rect x="170.17" y="144.6" width="462.87" height="4.65" fill="#9CD4AE"/>
<rect x="175.32" y="144.6" width="457.73" height="4.65" fill="#49A565"/>
<rect x="180.46" y="144.6" width="452.58" height="4.65" fill="#70BB87"/>
<rect x="185.6" y="144.6" width="447.44" height="4.65" fill="#C9EDD4"/>
<rect x="190.75" y="144.6" width="442.3" height="4.65" fill="#70BB87"/>
<rect x="195.89" y="144.6" width="437.15" height="4.65" fill="#49A565"/>
<rect x="206.17" y="144.6" width="426.87" height="4.65" fill="#70BB87"/>
<rect x="211.32" y="144.6" width="421.73" height="4.65" fill="#17893A"/>
<rect x="226.75" y="144.6" width="406.3" height="4.65" fill="#49A565"/>
<rect x="237.03" y="144.6" width="396.01" height="4.65" fill="#17893A"/>
<rect x="242.18" y="144.6" width="390.87" height="4.65" fill="#70BB87"/>
<rect x="247.32" y="144.6" width="385.73" height="4.65" fill="#49A565"/>
<rect x="273.03" y="144.6" width="360.01" height="4.65" fill="#70BB87"/>
<rect x="278.18" y="144.6" width="354.87" height="4.65" fill="#49A565"/>
<rect x="298.75" y="144.6" width="334.29" height="4.65" fill="#70BB87"/>
<rect x="303.89" y="144.6" width="329.15" height="4.65" fill="#49A565"/>
<rect x="309.03" y="144.6" width="324.01" height="4.65" fill="#9CD4AE"/>
<rect x="314.18" y="144.6" width="318.87" height="4.65" fill="#49A565"/>
<rect x="319.32" y="144.6" width="313.72" height="4.65" fill="#70BB87"/>
<rect x="339.89" y="144.6" width="293.15" height="4.65" fill="#17893A"/>
<rect x="345.04" y="144.6" width="288.01" height="4.65" fill="#9CD4AE"/>
<rect x="350.18" y="144.6" width="282.87" height="4.65" fill="#70BB87"/>
<rect x="365.61" y="144.6" width="267.44" height="4.65" fill="#17893A"/>
<rect x="401.61" y="144.6" width="231.43" height="4.65" fill="#70BB87"/>
<rect x="417.04" y="144.6" width="216.01" height="4.65" fill="#17893A"/>
<rect x="422.18" y="144.6" width="210.86" height="4.65" fill="#70BB87"/>
<rect x="442.75" y="144.6" width="190.29" height="4.65" fill="#49A565"/>
<rect x="463.32" y="144.6" width="169.72" height="4.65" fill="#70BB87"/>
<rect x="473.61" y="144.6" width="159.43" height="4.65" fill="#17893A"/>
<rect x="478.75" y="144.6" width="154.29" height="4.65" fill="#70BB87"/>
<rect x="483.9" y="144.6" width="149.15" height="4.65" fill="#49A565"/>
<rect x="494.18" y="144.6" width="138.86" height="4.65" fill="#70BB87"/>
<rect x="499.33" y="144.6" width="133.72" height="4.65" fill="#49A565"/>
<rect x="509.61" y="144.6" width="123.43" height="4.65" fill="#9CD4AE"/>
<rect x="514.75" y="144.6" width="118.29" height="4.65" fill="#49A565"/>
<rect x="525.04" y="144.6" width="108" height="4.65" fill="#17893A"/>
<rect x="530.18" y="144.6" width="102.86" height="4.65" fill="#70BB87"/>
<rect x="540.47" y="144.6" width="92.57" height="4.65" fill="#49A565"/>
<rect x="561.04" y="144.6" width="72" height="4.65" fill="#17893A"/>
<rect x="566.18" y="144.6" width="66.86" height="4.65" fill="#49A565"/>
<rect x="571.33" y="144.6" width="61.72" height="4.65" fill="#70BB87"/>
<rect x="581.61" y="144.6" width="51.43" height="4.65" fill="#C9EDD4"/>
<rect x="586.76" y="144.6" width="46.29" height="4.65" fill="#49A565"/>
<rect x="591.9" y="144.6" width="41.14" height="4.65" fill="#17893A"/>
<rect x="597.04" y="144.6" width="36" height="4.65" fill="#70BB87"/>
<rect x="607.33" y="144.6" width="25.72" height="4.65" fill="#49A565"/>
<rect x="617.62" y="144.6" width="15.43" height="4.65" fill="#70BB87"/>
<rect x="622.76" y="144.6" width="10.29" height="4.65" fill="#17893A"/>
<text x="633.9" y="148.64" font-size="4.5" font-weight="bold">Age</text>
<rect x="77.6" y="149.7" width="555.44" height="4.65" fill="#A2D7B2"/>
<rect x="82.74" y="149.7" width="550.3" height="4.65" fill="#85C799"/>
<rect x="93.03" y="149.7" width="540.01" height="4.65" fill="#A2D7B2"/>
<rect x="98.17" y="149.7" width="534.87" height="4.65" fill="#85C799"/>
<rect x="118.74" y="149.7" width="514.3" height="4.65" fill="#A2D7B2"/>
<rect x="123.89" y="149.7" width="509.16" height="4.65" fill="#85C799"/>
<rect x="139.32" y="149.7" width="493.73" height="4.65" fill="#C0E8CC"/>
<rect x="144.46" y="149.7" width="488.58" height="4.65" fill="#A2D7B2"/>
<rect x="149.6" y="149.7" width="483.44" height="4.65" fill="#5EB178"/>
<rect x="154.75" y="149.7" width="478.3" height="4.65" fill="#A2D7B2"/>
<rect x="159.89" y="149.7" width="473.16" height="4.65" fill="#85C799"/>
<rect x="165.03" y="149.7" width="468.01" height="4.65" fill="#5EB178"/>
<rect x="170.17" y="149.7" width="462.87" height="4.65" fill="#A2D7B2"/>
<rect x="180.46" y="149.7" width="452.58" height="4.65" fill="#85C799"/>
<rect x="201.03" y="149.7" width="432.01" height="4.65" fill="#A2D7B2"/>
<rect x="206.17" y="149.7" width="426.87" height="4.65" fill="#85C799"/>
<rect x="216.46" y="149.7" width="416.58" height="4.65" fill="#5EB178"/>
<rect x="221.6" y="149.7" width="411.44" height="4.65" fill="#C0E8CC"/>
<rect x="226.75" y="149.7" width="406.3" height="4.65" fill="#85C799"/>
<rect x="252.46" y="149.7" width="380.58" height="4.65" fill="#329851"/>
<rect x="257.61" y="149.7" width="375.44" height="4.65" fill="#85C799"/>
<rect x="273.03" y="149.7" width="360.01" height="4.65" fill="#A2D7B2"/>
<rect x="278.18" y="149.7" width="354.87" height="4.65" fill="#85C799"/>
<rect x="283.32" y="149.7" width="349.72" height="4.65" fill="#A2D7B2"/>
<rect x="288.46" y="149.7" width="344.58" height="4.65" fill="#85C799"/>
<rect x="293.61" y="149.7" width="339.44" height="4.65" fill="#A2D7B2"/>
<rect x="298.75" y="149.7" width="334.29" height="4.65" fill="#5EB178"/>
<rect x="303.89" y="149.7" width="329.15" height="4.65" fill="#A2D7B2"/>
<rect x="314.18" y="149.7" width="318.87" height="4.65" fill="#85C799"/>
<rect x="334.75" y="149.7" width="298.29" height="4.65" fill="#A2D7B2"/>
<rect x="339.89" y="149.7" width="293.15" height="4.65" fill="#C0E8CC"/>
<rect x="345.04" y="149.7" width="288.01" height="4.65" fill="#A2D7B2"/>
<rect x="350.18" y="149.7" width="282.87" height="4.65" fill="#85C799"/>
<rect x="360.47" y="149.7" width="272.58" height="4.65" fill="#5EB178"/>
<rect x="370.75" y="149.7" width="262.29" height="4.65" fill="#A2D7B2"/>
<rect x="381.04" y="149.7" width="252.01" height="4.65" fill="#85C799"/>
<rect x="406.75" y="149.7" width="226.29" height="4.65" fill="#A2D7B2"/>
<rect x="417.04" y="149.7" width="216.01" height="4.65" fill="#85C799"/>
<rect x="432.47" y="149.7" width="200.58" height="4.65" fill="#A2D7B2"/>
<rect x="437.61" y="149.7" width="195.43" height="4.65" fill="#85C799"/>
<rect x="463.32" y="149.7" width="169.72" height="4.65" fill="#5EB178"/>
<rect x="468.47" y="149.7" width="164.58" height="4.65" fill="#85C799"/>
<rect x="473.61" y="149.7" width="159.43" height="4.65" fill="#A2D7B2"/>
<rect x="478.75" y="149.7" width="154.29" height="4.65" fill="#85C799"/>
<rect x="483.9" y="149.7" width="149.15" height="4.65" fill="#A2D7B2"/>
<rect x="499.33" y="149.7" width="133.72" height="4.65" fill="#85C799"/>
<rect x="509.61" y="149.7" width="123.43" height="4.65" fill="#5EB178"/>
<rect x="519.9" y="149.7" width="113.15" height="4.65" fill="#85C799"/>
<rect x="530.18" y="149.7" width="102.86" height="4.65" fill="#A2D7B2"/>
<rect x="535.33" y="149.7" width="97.72" height="4.65" fill="#85C799"/>
<rect x="540.47" y="149.7" width="92.57" height="4.65" fill="#5EB178"/>
<rect x="545.61" y="149.7" width="87.43" height="4.65" fill="#A2D7B2"/>
<rect x="566.18" y="149.7" width="66.86" height="4.65" fill="#85C799"/>
<rect x="576.47" y="149.7" width="56.57" height="4.65" fill="#5EB178"/>
<rect x="581.61" y="149.7" width="51.43" height="4.65" fill="#C0E8CC"/>
<rect x="586.76" y="149.7" width="46.29" height="4.65" fill="#85C799"/>
<rect x="597.04" y="149.7" width="36" height="4.65" fill="#A2D7B2"/>
<rect x="602.19" y="149.7" width="30.86" height="4.65" fill="#85C799"/>
<rect x="612.47" y="149.7" width="20.57" height="4.65" fill="#5EB178"/>
<rect x="617.62" y="149.7" width="15.43" height="4.65" fill="#85C799"/>
<rect x="622.76" y="149.7" width="10.29" height="4.65" fill="#A2D7B2"/>
<rect x="627.9" y="149.7" width="5.14" height="4.65" fill="#C0E8CC"/>
<text x="633.9" y="153.75" font-size="4.5" font-weight="bold">BMI</text>
<rect x="77.6" y="154.8" width="555.44" height="4.65" fill="#17893A"/>
<rect x="82.74" y="154.8" width="550.3" height="4.65" fill="#C9EDD4"/>
<rect x="87.89" y="154.8" width="545.16" height="4.65" fill="#17893A"/>
<rect x="93.03" y="154.8" width="540.01" height="4.65" fill="#BDBDBD"/>
<rect x="98.17" y="154.8" width="534.87" height="4.65" fill="#17893A"/>
<rect x="113.6" y="154.8" width="519.44" height="4.65" fill="#C9EDD4"/>
<rect x="118.74" y="154.8" width="514.3" height="4.65" fill="#BDBDBD"/>
<rect x="129.03" y="154.8" width="504.01" height="4.65" fill="#17893A"/>
<rect x="139.32" y="154.8" width="493.73" height="4.65" fill="#C9EDD4"/>
<rect x="144.46" y="154.8" width="488.58" height="4.65" fill="#BDBDBD"/>
<rect x="149.6" y="154.8" width="483.44" height="4.65" fill="#C9EDD4"/>
<rect x="154.75" y="154.8" width="478.3" height="4.65" fill="#BDBDBD"/>
<rect x="159.89" y="154.8" width="473.16" height="4.65" fill="#17893A"/>
<rect x="165.03" y="154.8" width="468.01" height="4.65" fill="#BDBDBD"/>
<rect x="170.17" y="154.8" width="462.87" height="4.65" fill="#C9EDD4"/>
<rect x="175.32" y="154.8" width="457.73" height="4.65" fill="#17893A"/>
<rect x="180.46" y="154.8" width="452.58" height="4.65" fill="#C9EDD4"/>
<rect x="185.6" y="154.8" width="447.44" height="4.65" fill="#BDBDBD"/>
<rect x="190.75" y="154.8" width="442.3" height="4.65" fill="#17893A"/>
<rect x="195.89" y="154.8" width="437.15" height="4.65" fill="#C9EDD4"/>
<rect x="201.03" y="154.8" width="432.01" height="4.65" fill="#17893A"/>
<rect x="206.17" y="154.8" width="426.87" height="4.65" fill="#C9EDD4"/>
<rect x="211.32" y="154.8" width="421.73" height="4.65" fill="#BDBDBD"/>
<rect x="221.6" y="154.8" width="411.44" height="4.65" fill="#17893A"/>
<rect x="231.89" y="154.8" width="401.15" height="4.65" fill="#BDBDBD"/>
<rect x="237.03" y="154.8" width="396.01" height="4.65" fill="#17893A"/>
<rect x="242.18" y="154.8" width="390.87" height="4.65" fill="#C9EDD4"/>
<rect x="247.32" y="154.8" width="385.73" height="4.65" fill="#17893A"/>
<rect x="252.46" y="154.8" width="380.58" height="4.65" fill="#BDBDBD"/>
<rect x="262.75" y="154.8" width="370.3" height="4.65" fill="#17893A"/>
<rect x="267.89" y="154.8" width="365.15" height="4.65" fill="#BDBDBD"/>
<rect x="370.75" y="154.8" width="262.29" height="4.65" fill="#17893A"/>
<rect x="375.89" y="154.8" width="257.15" height="4.65" fill="#BDBDBD"/>
<rect x="417.04" y="154.8" width="216.01" height="4.65" fill="#17893A"/>
<rect x="422.18" y="154.8" width="210.86" height="4.65" fill="#BDBDBD"/>
<rect x="442.75" y="154.8" width="190.29" height="4.65" fill="#C9EDD4"/>
<rect x="453.04" y="154.8" width="180" height="4.65" fill="#17893A"/>
<rect x="458.18" y="154.8" width="174.86" height="4.65" fill="#BDBDBD"/>
<rect x="468.47" y="154.8" width="164.58" height="4.65" fill="#C9EDD4"/>
<rect x="473.61" y="154.8" width="159.43" height="4.65" fill="#17893A"/>
<rect x="478.75" y="154.8" width="154.29" height="4.65" fill="#BDBDBD"/>
<rect x="494.18" y="154.8" width="138.86" height="4.65" fill="#17893A"/>
<rect x="504.47" y="154.8" width="128.58" height="4.65" fill="#BDBDBD"/>
<rect x="509.61" y="154.8" width="123.43" height="4.65" fill="#C9EDD4"/>
<rect x="514.75" y="154.8" width="118.29" height="4.65" fill="#BDBDBD"/>
<rect x="519.9" y="154.8" width="113.15" height="4.65" fill="#17893A"/>
<rect x="525.04" y="154.8" width="108" height="4.65" fill="#BDBDBD"/>
<rect x="530.18" y="154.8" width="102.86" height="4.65" fill="#17893A"/>
<rect x="535.33" y="154.8" width="97.72" height="4.65" fill="#C9EDD4"/>
<rect x="540.47" y="154.8" width="92.57" height="4.65" fill="#BDBDBD"/>
<rect x="545.61" y="154.8" width="87.43" height="4.65" fill="#17893A"/>
<rect x="550.76" y="154.8" width="82.29" height="4.65" fill="#BDBDBD"/>
<rect x="555.9" y="154.8" width="77.14" height="4.65" fill="#17893A"/>
<rect x="561.04" y="154.8" width="72" height="4.65" fill="#BDBDBD"/>
<rect x="571.33" y="154.8" width="61.72" height="4.65" fill="#17893A"/>
<rect x="581.61" y="154.8" width="51.43" height="4.65" fill="#C9EDD4"/>
<rect x="586.76" y="154.8" width="46.29" height="4.65" fill="#17893A"/>
<rect x="591.9" y="154.8" width="41.14" height="4.65" fill="#BDBDBD"/>
<rect x="597.04" y="154.8" width="36" height="4.65" fill="#17893A"/>
<rect x="602.19" y="154.8" width="30.86" height="4.65" fill="#BDBDBD"/>
<rect x="607.33" y="154.8" width="25.72" height="4.65" fill="#17893A"/>
<rect x="612.47" y="154.8" width="20.57" height="4.65" fill="#C9EDD4"/>
<rect x="617.62" y="154.8" width="15.43" height="4.65" fill="#17893A"/>
<rect x="622.76" y="154.8" width="10.29" height="4.65" fill="#BDBDBD"/>
<rect x="627.9" y="154.8" width="5.14" height="4.65" fill="#17893A"/>
<text x="633.9" y="158.84" font-size="4.5" font-weight="bold">Smoke</text>
<rect x="77.6" y="159.9" width="555.44" height="4.65" fill="#C9EDD4"/>
<rect x="82.74" y="159.9" width="550.3" height="4.65" fill="#17893A"/>
<rect x="87.89" y="159.9" width="545.16" height="4.65" fill="#C9EDD4"/>
<rect x="93.03" y="159.9" width="540.01" height="4.65" fill="#BDBDBD"/>
<rect x="103.31" y="159.9" width="529.73" height="4.65" fill="#C9EDD4"/>
<rect x="118.74" y="159.9" width="514.3" height="4.65" fill="#BDBDBD"/>
<rect x="123.89" y="159.9" width="509.16" height="4.65" fill="#17893A"/>
<rect x="129.03" y="159.9" width="504.01" height="4.65" fill="#C9EDD4"/>
<rect x="139.32" y="159.9" width="493.73" height="4.65" fill="#BDBDBD"/>
<rect x="154.75" y="159.9" width="478.3" height="4.65" fill="#C9EDD4"/>
<rect x="165.03" y="159.9" width="468.01" height="4.65" fill="#BDBDBD"/>
<rect x="170.17" y="159.9" width="462.87" height="4.65" fill="#C9EDD4"/>
<rect x="175.32" y="159.9" width="457.73" height="4.65" fill="#BDBDBD"/>
<rect x="180.46" y="159.9" width="452.58" height="4.65" fill="#C9EDD4"/>
<rect x="185.6" y="159.9" width="447.44" height="4.65" fill="#BDBDBD"/>
<rect x="195.89" y="159.9" width="437.15" height="4.65" fill="#17893A"/>
<rect x="201.03" y="159.9" width="432.01" height="4.65" fill="#BDBDBD"/>
<rect x="206.17" y="159.9" width="426.87" height="4.65" fill="#C9EDD4"/>
<rect x="211.32" y="159.9" width="421.73" height="4.65" fill="#BDBDBD"/>
<rect x="221.6" y="159.9" width="411.44" height="4.65" fill="#C9EDD4"/>
<rect x="226.75" y="159.9" width="406.3" height="4.65" fill="#BDBDBD"/>
<rect x="237.03" y="159.9" width="396.01" height="4.65" fill="#C9EDD4"/>
<rect x="242.18" y="159.9" width="390.87" height="4.65" fill="#17893A"/>
<rect x="252.46" y="159.9" width="380.58" height="4.65" fill="#BDBDBD"/>
<rect x="262.75" y="159.9" width="370.3" height="4.65" fill="#C9EDD4"/>
<rect x="267.89" y="159.9" width="365.15" height="4.65" fill="#BDBDBD"/>
<rect x="283.32" y="159.9" width="349.72" height="4.65" fill="#C9EDD4"/>
<rect x="288.46" y="159.9" width="344.58" height="4.65" fill="#BDBDBD"/>
<rect x="401.61" y="159.9" width="231.43" height="4.65" fill="#C9EDD4"/>
<rect x="406.75" y="159.9" width="226.29" height="4.65" fill="#BDBDBD"/>
<rect x="411.89" y="159.9" width="221.15" height="4.65" fill="#C9EDD4"/>
<rect x="417.04" y="159.9" width="216.01" height="4.65" fill="#BDBDBD"/>
<rect x="453.04" y="159.9" width="180" height="4.65" fill="#C9EDD4"/>
<rect x="458.18" y="159.9" width="174.86" height="4.65" fill="#BDBDBD"/>
<rect x="468.47" y="159.9" width="164.58" height="4.65" fill="#C9EDD4"/>
<rect x="473.61" y="159.9" width="159.43" height="4.65" fill="#BDBDBD"/>
<rect x="478.75" y="159.9" width="154.29" height="4.65" fill="#C9EDD4"/>
<rect x="483.9" y="159.9" width="149.15" height="4.65" fill="#BDBDBD"/>
<rect x="499.33" y="159.9" width="133.72" height="4.65" fill="#C9EDD4"/>
<rect x="504.47" y="159.9" width="128.58" height="4.65" fill="#BDBDBD"/>
<rect x="509.61" y="159.9" width="123.43" height="4.65" fill="#C9EDD4"/>
<rect x="514.75" y="159.9" width="118.29" height="4.65" fill="#BDBDBD"/>
<rect x="519.9" y="159.9" width="113.15" height="4.65" fill="#C9EDD4"/>
<rect x="525.04" y="159.9" width="108" height="4.65" fill="#BDBDBD"/>
<rect x="535.33" y="159.9" width="97.72" height="4.65" fill="#C9EDD4"/>
<rect x="540.47" y="159.9" width="92.57" height="4.65" fill="#BDBDBD"/>
<rect x="566.18" y="159.9" width="66.86" height="4.65" fill="#C9EDD4"/>
<rect x="571.33" y="159.9" width="61.72" height="4.65" fill="#BDBDBD"/>
<rect x="576.47" y="159.9" width="56.57" height="4.65" fill="#C9EDD4"/>
<rect x="586.76" y="159.9" width="46.29" height="4.65" fill="#BDBDBD"/>
<rect x="597.04" y="159.9" width="36" height="4.65" fill="#C9EDD4"/>
<rect x="602.19" y="159.9" width="30.86" height="4.65" fill="#BDBDBD"/>
<rect x="617.62" y="159.9" width="15.43" height="4.65" fill="#17893A"/>
<rect x="622.76" y="159.9" width="10.29" height="4.65" fill="#BDBDBD"/>
<rect x="627.9" y="159.9" width="5.14" height="4.65" fill="#C9EDD4"/>
<text x="633.9" y="163.94" font-size="4.5" font-weight="bold">Drink</text>
<rect x="77.6" y="164.75" width="555.44" height="83.75" fill="#FEEBB9"/>
<path d="M77.6 164.75h25.71v9.31h-25.71zM108.46 164.75h10.29v9.31h-10.29zM123.89 164.75h10.29v9.31h-10.29zM139.32 164.75h30.86v9.31h-30.86zM175.32 164.75h10.29v9.31h-10.29zM195.89 164.75h10.29v9.31h-10.29zM211.32 164.75h10.29v9.31h-10.29zM226.75 164.75h5.14v9.31h-5.14zM247.32 164.75h15.43v9.31h-15.43zM267.89 164.75h5.14v9.31h-5.14zM314.18 164.75h10.29v9.31h-10.29zM329.61 164.75h5.14v9.31h-5.14zM350.18 164.75h10.29v9.31h-10.29zM365.61 164.75h20.57v9.31h-20.57zM391.32 164.75h5.14v9.31h-5.14zM401.61 164.75h5.14v9.31h-5.14zM422.18 164.75h5.14v9.31h-5.14zM437.61 164.75h15.43v9.31h-15.43zM463.32 164.75h10.29v9.31h-10.29zM478.75 164.75h15.43v9.31h-15.43zM499.33 164.75h10.29v9.31h-10.29zM514.75 164.75h15.43v9.31h-15.43zM540.47 164.75h10.29v9.31h-10.29zM555.9 164.75h15.43v9.31h-15.43zM581.61 164.75h30.86v9.31h-30.86zM617.62 164.75h15.43v9.31h-15.43zM93.03 174.06h5.14v9.31h-5.14zM123.89 174.06h5.14v9.31h-5.14zM159.89 174.06h5.14v9.31h-5.14zM231.89 174.06h5.14v9.31h-5.14zM242.18 174.06h30.86v9.31h-30.86zM370.75 174.06h5.14v9.31h-5.14zM463.32 174.06h5.14v9.31h-5.14zM478.75 174.06h10.29v9.31h-10.29zM612.47 174.06h5.14v9.31h-5.14zM622.76 174.06h10.29v9.31h-10.29zM87.89 183.36h5.14v9.31h-5.14zM129.03 183.36h10.29v9.31h-10.29zM159.89 183.36h5.14v9.31h-5.14zM180.46 183.36h5.14v9.31h-5.14zM211.32 183.36h5.14v9.31h-5.14zM247.32 183.36h5.14v9.31h-5.14zM535.33 183.36h5.14v9.31h-5.14zM586.76 183.36h5.14v9.31h-5.14zM283.32 192.67h5.14v9.31h-5.14zM303.89 192.67h10.29v9.31h-10.29zM411.89 192.67h5.14v9.31h-5.14zM427.32 192.67h5.14v9.31h-5.14zM581.61 192.67h5.14v9.31h-5.14zM159.89 201.97h5.14v9.31h-5.14zM468.47 201.97h10.29v9.31h-10.29zM504.47 201.97h10.29v9.31h-10.29zM566.18 201.97h5.14v9.31h-5.14zM617.62 201.97h5.14v9.31h-5.14zM257.61 211.28h5.14v9.31h-5.14zM463.32 211.28h5.14v9.31h-5.14zM473.61 211.28h5.14v9.31h-5.14zM483.9 211.28h10.29v9.31h-10.29zM612.47 211.28h5.14v9.31h-5.14zM622.76 211.28h5.14v9.31h-5.14zM463.32 220.59h5.14v9.31h-5.14zM473.61 220.59h5.14v9.31h-5.14zM483.9 220.59h10.29v9.31h-10.29zM98.17 229.89h10.29v9.31h-10.29zM159.89 229.89h5.14v9.31h-5.14zM170.17 229.89h5.14v9.31h-5.14zM206.17 229.89h5.14v9.31h-5.14zM262.75 229.89h5.14v9.31h-5.14zM375.89 229.89h5.14v9.31h-5.14zM422.18 229.89h5.14v9.31h-5.14zM509.61 229.89h5.14v9.31h-5.14zM530.18 229.89h5.14v9.31h-5.14zM545.61 229.89h10.29v9.31h-10.29zM576.47 229.89h10.29v9.31h-10.29zM597.04 229.89h15.43v9.31h-15.43zM103.31 239.2h25.71v9.31h-25.71zM144.46 239.2h5.14v9.31h-5.14zM154.75 239.2h10.29v9.31h-10.29zM309.03 239.2h5.14v9.31h-5.14zM422.18 239.2h5.14v9.31h-5.14zM463.32 239.2h20.57v9.31h-20.57zM489.04 239.2h10.29v9.31h-10.29zM504.47 239.2h10.29v9.31h-10.29zM591.9 239.2h5.14v9.31h-5.14z" fill="#E9476A"/>
<rect x="72.2" y="164.75" width="5" height="83.75" fill="#92C5DE"/>
<rect x="72.2" y="174.06" width="5" height="74.45" fill="#B8E186"/>
<rect x="72.2" y="183.36" width="5" height="65.14" fill="#F1B6DA"/>
<rect x="72.2" y="192.67" width="5" height="55.84" fill="#B8E186"/>
<rect x="72.2" y="201.97" width="5" height="46.53" fill="#F1B6DA"/>
<rect x="72.2" y="211.28" width="5" height="37.22" fill="#B8E186"/>
<rect x="72.2" y="220.59" width="5" height="27.92" fill="#B8E186"/>
<rect x="72.2" y="229.89" width="5" height="18.61" fill="#92C5DE"/>
<rect x="72.2" y="239.2" width="5" height="9.31" fill="#92C5DE"/>
<text x="633.9" y="171.42" font-size="4.6" stroke="#000" stroke-width="0.05">Bifidobacterium</text>
<text x="633.9" y="180.73" font-size="4.6" stroke="#000" stroke-width="0.05">Enterococcus</text>
<text x="633.9" y="190.03" font-size="4.6" stroke="#000" stroke-width="0.05">Snodgrassella</text>
<text x="633.9" y="199.34" font-size="4.6" stroke="#000" stroke-width="0.05">Peptoanaerobacter</text>
<text x="633.9" y="208.65" font-size="4.6" stroke="#000" stroke-width="0.05">Brevundimonas</text>
<text x="633.9" y="217.95" font-size="4.6" stroke="#000" stroke-width="0.05">Lawsonibacter</text>
<text x="633.9" y="227.26" font-size="4.6" stroke="#000" stroke-width="0.05">Eisenbergiella</text>
<text x="633.9" y="236.56" font-size="4.6" stroke="#000" stroke-width="0.05">Mobiluncus</text>
<text x="633.9" y="245.87" font-size="4.6" stroke="#000" stroke-width="0.05">Dermacoccus</text>
<g class="p" stroke="#000" stroke-width="0.04" font-size="4.65">
<text transform="translate(78.5,249.2) rotate(90)">X.358</text>
<text transform="translate(83.64,249.2) rotate(90)">X.359</text>
<text transform="translate(88.78,249.2) rotate(90)">X.323</text>
<text transform="translate(93.93,249.2) rotate(90)">X.325</text>
<text transform="translate(99.07,249.2) rotate(90)">X.331</text>
<text transform="translate(104.21,249.2) rotate(90)">X.350</text>
<text transform="translate(109.36,249.2) rotate(90)">X.354</text>
<text transform="translate(114.5,249.2) rotate(90)">X.361</text>
<text transform="translate(119.64,249.2) rotate(90)">X.365</text>
<text transform="translate(124.78,249.2) rotate(90)">X.369</text>
<text transform="translate(129.93,249.2) rotate(90)">X.370</text>
<text transform="translate(135.07,249.2) rotate(90)">X.377</text>
<text transform="translate(140.21,249.2) rotate(90)">X.378</text>
<text transform="translate(145.36,249.2) rotate(90)">X.379</text>
<text transform="translate(150.5,249.2) rotate(90)">X.382</text>
<text transform="translate(155.64,249.2) rotate(90)">X.383</text>
<text transform="translate(160.79,249.2) rotate(90)">X.393</text>
<text transform="translate(165.93,249.2) rotate(90)">X.395</text>
<text transform="translate(171.07,249.2) rotate(90)">X.396</text>
<text transform="translate(176.21,249.2) rotate(90)">X.397</text>
<text transform="translate(181.36,249.2) rotate(90)">X.401</text>
<text transform="translate(186.5,249.2) rotate(90)">X.402</text>
<text transform="translate(191.64,249.2) rotate(90)">X.410</text>
<text transform="translate(196.79,249.2) rotate(90)">X.414</text>
<text transform="translate(201.93,249.2) rotate(90)">X.417</text>
<text transform="translate(207.07,249.2) rotate(90)">X.418</text>
<text transform="translate(212.22,249.2) rotate(90)">X.422</text>
<text transform="translate(217.36,249.2) rotate(90)">X.425</text>
<text transform="translate(222.5,249.2) rotate(90)">X.433</text>
<text transform="translate(227.64,249.2) rotate(90)">X.436</text>
<text transform="translate(232.79,249.2) rotate(90)">X.440</text>
<text transform="translate(237.93,249.2) rotate(90)">X.441</text>
<text transform="translate(243.07,249.2) rotate(90)">X.445</text>
<text transform="translate(248.22,249.2) rotate(90)">X.446</text>
<text transform="translate(253.36,249.2) rotate(90)">X.448</text>
<text transform="translate(258.5,249.2) rotate(90)">X.454</text>
<text transform="translate(263.65,249.2) rotate(90)">X.456</text>
<text transform="translate(268.79,249.2) rotate(90)">X.457</text>
<text transform="translate(273.93,249.2) rotate(90)">X.329</text>
<text transform="translate(279.07,249.2) rotate(90)">X.335</text>
<text transform="translate(284.22,249.2) rotate(90)">X.340</text>
<text transform="translate(289.36,249.2) rotate(90)">X.348</text>
<text transform="translate(294.5,249.2) rotate(90)">X.353</text>
<text transform="translate(299.65,249.2) rotate(90)">X.357</text>
<text transform="translate(304.79,249.2) rotate(90)">X.367</text>
<text transform="translate(309.93,249.2) rotate(90)">X.371</text>
<text transform="translate(315.08,249.2) rotate(90)">X.375</text>
<text transform="translate(320.22,249.2) rotate(90)">X.381</text>
<text transform="translate(325.36,249.2) rotate(90)">X.386</text>
<text transform="translate(330.5,249.2) rotate(90)">X.390</text>
<text transform="translate(335.65,249.2) rotate(90)">X.391</text>
<text transform="translate(340.79,249.2) rotate(90)">X.394</text>
<text transform="translate(345.93,249.2) rotate(90)">X.399</text>
<text transform="translate(351.08,249.2) rotate(90)">X.404</text>
<text transform="translate(356.22,249.2) rotate(90)">X.409</text>
<text transform="translate(361.36,249.2) rotate(90)">X.413</text>
<text transform="translate(366.51,249.2) rotate(90)">X.420</text>
<text transform="translate(371.65,249.2) rotate(90)">X.424</text>
<text transform="translate(376.79,249.2) rotate(90)">X.428</text>
<text transform="translate(381.93,249.2) rotate(90)">X.430</text>
<text transform="translate(387.08,249.2) rotate(90)">X.434</text>
<text transform="translate(392.22,249.2) rotate(90)">X.438</text>
<text transform="translate(397.36,249.2) rotate(90)">X.443</text>
<text transform="translate(402.51,249.2) rotate(90)">X.447</text>
<text transform="translate(407.65,249.2) rotate(90)">X.450</text>
<text transform="translate(412.79,249.2) rotate(90)">X.452</text>
<text transform="translate(417.94,249.2) rotate(90)">X.455</text>
<text transform="translate(423.08,249.2) rotate(90)">X.320</text>
<text transform="translate(428.22,249.2) rotate(90)">X.322</text>
<text transform="translate(433.36,249.2) rotate(90)">X.326</text>
<text transform="translate(438.51,249.2) rotate(90)">X.328</text>
<text transform="translate(443.65,249.2) rotate(90)">X.332</text>
<text transform="translate(448.79,249.2) rotate(90)">X.334</text>
<text transform="translate(453.94,249.2) rotate(90)">X.336</text>
<text transform="translate(459.08,249.2) rotate(90)">X.338</text>
<text transform="translate(464.22,249.2) rotate(90)">X.341</text>
<text transform="translate(469.37,249.2) rotate(90)">X.343</text>
<text transform="translate(474.51,249.2) rotate(90)">X.345</text>
<text transform="translate(479.65,249.2) rotate(90)">X.347</text>
<text transform="translate(484.79,249.2) rotate(90)">X.351</text>
<text transform="translate(489.94,249.2) rotate(90)">X.355</text>
<text transform="translate(495.08,249.2) rotate(90)">X.362</text>
<text transform="translate(500.22,249.2) rotate(90)">X.364</text>
<text transform="translate(505.37,249.2) rotate(90)">X.366</text>
<text transform="translate(510.51,249.2) rotate(90)">X.372</text>
<text transform="translate(515.65,249.2) rotate(90)">X.374</text>
<text transform="translate(520.8,249.2) rotate(90)">X.376</text>
<text transform="translate(525.94,249.2) rotate(90)">X.380</text>
<text transform="translate(531.08,249.2) rotate(90)">X.384</text>
<text transform="translate(536.22,249.2) rotate(90)">X.387</text>
<text transform="translate(541.37,249.2) rotate(90)">X.389</text>
<text transform="translate(546.51,249.2) rotate(90)">X.392</text>
<text transform="translate(551.65,249.2) rotate(90)">X.398</text>
<text transform="translate(556.8,249.2) rotate(90)">X.400</text>
<text transform="translate(561.94,249.2) rotate(90)">X.403</text>
<text transform="translate(567.08,249.2) rotate(90)">X.405</text>
<text transform="translate(572.23,249.2) rotate(90)">X.407</text>
<text transform="translate(577.37,249.2) rotate(90)">X.411</text>
<text transform="translate(582.51,249.2) rotate(90)">X.415</text>
<text transform="translate(587.65,249.2) rotate(90)">X.419</text>
<text transform="translate(592.8,249.2) rotate(90)">X.423</text>
<text transform="translate(597.94,249.2) rotate(90)">X.427</text>
<text transform="translate(603.08,249.2) rotate(90)">X.432</text>
<text transform="translate(608.23,249.2) rotate(90)">X.435</text>
<text transform="translate(613.37,249.2) rotate(90)">X.444</text>
<text transform="translate(618.51,249.2) rotate(90)">X.446</text>
<text transform="translate(623.66,249.2) rotate(90)">X.447</text>
<text transform="translate(628.8,249.2) rotate(90)">X.451</text>
</g>
<text transform="translate(73.01,249.3) rotate(90)" font-size="4.7" font-weight="bold">Phylum</text>
<path d="M72.2 215.93H69.52V225.24H72.2M72.2 206.63H67.14V220.59H69.52M72.2 197.32H66.67V213.61H67.14M72.2 188.01H66.19V205.46H66.67M72.2 178.71H65.56V196.74H66.19M72.2 234.54H64.76V243.85H72.2M65.56 187.72H64.29V239.2H64.76M72.2 169.4H59.84V213.46H64.29" fill="none" stroke="#555" stroke-width="0.35"/>
<rect x="674.7" y="134" width="2.3" height="35.4" fill="url(#hg)"/>
<text x="677.4" y="135.59" font-size="4.7" stroke="#000" stroke-width="0.08">1</text>
<text x="677.4" y="142.67" font-size="4.7" stroke="#000" stroke-width="0.08">0.8</text>
<text x="677.4" y="149.75" font-size="4.7" stroke="#000" stroke-width="0.08">0.6</text>
<text x="677.4" y="156.83" font-size="4.7" stroke="#000" stroke-width="0.08">0.4</text>
<text x="677.4" y="163.91" font-size="4.7" stroke="#000" stroke-width="0.08">0.2</text>
<text x="677.4" y="170.99" font-size="4.7" stroke="#000" stroke-width="0.08">0</text>
<g stroke="#7FCB7F" stroke-width="0.32" stroke-dasharray="1.6 0.5" fill="none">
<line x1="52.3" y1="303.1" x2="108.2" y2="321.2"/>
<line x1="52.3" y1="303.1" x2="114.3" y2="341.3"/>
<line x1="52.3" y1="303.1" x2="107.9" y2="361.3"/>
<line x1="52.3" y1="303.1" x2="54.8" y2="321.2"/>
<line x1="52.3" y1="303.1" x2="54.8" y2="361.3"/>
<line x1="52.3" y1="303.1" x2="104" y2="381.4"/>
<line x1="52.3" y1="303.1" x2="48.3" y2="341.7"/>
<line x1="54.8" y1="321.2" x2="100.5" y2="303.1"/>
<line x1="54.8" y1="321.2" x2="108.2" y2="321.2"/>
<line x1="54.8" y1="321.2" x2="114.3" y2="341.3"/>
<line x1="54.8" y1="321.2" x2="107.9" y2="361.3"/>
<line x1="54.8" y1="321.2" x2="104" y2="381.4"/>
<line x1="54.8" y1="321.2" x2="48.3" y2="341.7"/>
<line x1="54.8" y1="321.2" x2="54.8" y2="361.3"/>
<line x1="54.8" y1="361.3" x2="100.5" y2="303.1"/>
<line x1="54.8" y1="361.3" x2="108.2" y2="321.2"/>
<line x1="54.8" y1="361.3" x2="107.9" y2="361.3"/>
<line x1="54.8" y1="361.3" x2="63.4" y2="381.4"/>
<line x1="63.4" y1="381.4" x2="108.2" y2="321.2"/>
<line x1="63.4" y1="381.4" x2="114.3" y2="341.3"/>
<line x1="63.4" y1="381.4" x2="107.9" y2="361.3"/>
<line x1="100.5" y1="303.1" x2="108.2" y2="321.2"/>
<line x1="100.5" y1="303.1" x2="107.9" y2="361.3"/>
<line x1="100.5" y1="303.1" x2="104" y2="381.4"/>
<line x1="108.2" y1="321.2" x2="107.9" y2="361.3"/>
<line x1="114.3" y1="341.3" x2="107.9" y2="361.3"/>
<line x1="108.2" y1="321.2" x2="114.3" y2="341.3"/>
<line x1="48.3" y1="341.7" x2="100.5" y2="303.1"/>
</g>
<g stroke="#F27BA5" stroke-width="0.45" fill="none">
<line x1="52.3" y1="303.45" x2="100.5" y2="303.45"/>
<line x1="100.5" y1="303.1" x2="63.4" y2="381.4"/>
<line x1="114.3" y1="341.3" x2="54.8" y2="361.3"/>
</g>
<circle cx="52.3" cy="303.1" r="4.2" fill="#B8E186"/>
<circle cx="100.5" cy="303.1" r="4.2" fill="#F1B6DA"/>
<circle cx="54.8" cy="321.2" r="4.2" fill="#B8E186"/>
<circle cx="108.2" cy="321.2" r="4.2" fill="#F1B6DA"/>
<circle cx="48.3" cy="341.7" r="4.2" fill="#B8E186"/>
<circle cx="114.3" cy="341.3" r="4.2" fill="#92C5DE"/>
<circle cx="54.8" cy="361.3" r="4.2" fill="#B8E186"/>
<circle cx="107.9" cy="361.3" r="4.2" fill="#92C5DE"/>
<circle cx="63.4" cy="381.4" r="4.2" fill="#F4A582"/>
<circle cx="104" cy="381.4" r="4.2" fill="#F4A582"/>
<text x="52.3" y="313.15" font-size="4.1" text-anchor="middle" class="p">Streptococcus mutans</text>
<text x="100.5" y="313.15" font-size="4.1" text-anchor="middle" class="p">Cardiobacterium hominis</text>
<text x="54.8" y="331.25" font-size="4.1" text-anchor="middle" class="p">Enterococcus faecalis</text>
<text x="108.2" y="331.25" font-size="4.1" text-anchor="middle" class="p">Snodgrassella alvi</text>
<text x="48.3" y="351.75" font-size="4.1" text-anchor="middle" class="p">Eisenbergiella massiliensis</text>
<text x="114.3" y="351.35" font-size="4.1" text-anchor="middle" class="p">Dermacoccus profundi</text>
<text x="54.8" y="371.35" font-size="4.1" text-anchor="middle" class="p">Lawsonibacter asaccharolyticus</text>
<text x="107.9" y="371.35" font-size="4.1" text-anchor="middle" class="p">Mobiluncus curtisii</text>
<text x="63.4" y="391.45" font-size="4.1" text-anchor="middle" class="p">Prevotella nigrescens</text>
<text x="104" y="391.45" font-size="4.1" text-anchor="middle" class="p">Alistipes finegoldii</text>
<g stroke="#7FCB7F" stroke-width="0.32" stroke-dasharray="1.6 0.5" fill="none">
<line x1="164.5" y1="301.7" x2="219.9" y2="322.4"/>
<line x1="164.5" y1="301.7" x2="226" y2="342.6"/>
<line x1="164.5" y1="301.7" x2="219.7" y2="362.7"/>
<line x1="164.5" y1="301.7" x2="166.4" y2="322.4"/>
<line x1="164.5" y1="301.7" x2="166.4" y2="362.7"/>
<line x1="164.5" y1="301.7" x2="216.7" y2="383.7"/>
<line x1="164.5" y1="301.7" x2="160.1" y2="343.1"/>
<line x1="166.4" y1="322.4" x2="214.4" y2="301.9"/>
<line x1="166.4" y1="322.4" x2="219.9" y2="322.4"/>
<line x1="166.4" y1="322.4" x2="226" y2="342.6"/>
<line x1="166.4" y1="322.4" x2="219.7" y2="362.7"/>
<line x1="166.4" y1="322.4" x2="216.7" y2="383.7"/>
<line x1="166.4" y1="322.4" x2="160.1" y2="343.1"/>
<line x1="166.4" y1="322.4" x2="166.4" y2="362.7"/>
<line x1="166.4" y1="362.7" x2="214.4" y2="301.9"/>
<line x1="166.4" y1="362.7" x2="219.9" y2="322.4"/>
<line x1="166.4" y1="362.7" x2="219.7" y2="362.7"/>
<line x1="166.4" y1="362.7" x2="174.7" y2="383.4"/>
<line x1="174.7" y1="383.4" x2="219.9" y2="322.4"/>
<line x1="174.7" y1="383.4" x2="226" y2="342.6"/>
<line x1="174.7" y1="383.4" x2="219.7" y2="362.7"/>
<line x1="214.4" y1="301.9" x2="219.9" y2="322.4"/>
<line x1="214.4" y1="301.9" x2="219.7" y2="362.7"/>
<line x1="214.4" y1="301.9" x2="216.7" y2="383.7"/>
<line x1="219.9" y1="322.4" x2="219.7" y2="362.7"/>
<line x1="226" y1="342.6" x2="219.7" y2="362.7"/>
<line x1="219.9" y1="322.4" x2="226" y2="342.6"/>
<line x1="160.1" y1="343.1" x2="214.4" y2="301.9"/>
</g>
<g stroke="#F27BA5" stroke-width="0.45" fill="none">
<line x1="164.5" y1="302.05" x2="214.4" y2="302.25"/>
<line x1="214.4" y1="301.9" x2="174.7" y2="383.4"/>
<line x1="226" y1="342.6" x2="166.4" y2="362.7"/>
</g>
<circle cx="164.5" cy="301.7" r="4.2" fill="#B8E186"/>
<circle cx="214.4" cy="301.9" r="4.2" fill="#F1B6DA"/>
<circle cx="166.4" cy="322.4" r="4.2" fill="#B8E186"/>
<circle cx="219.9" cy="322.4" r="4.2" fill="#F1B6DA"/>
<circle cx="160.1" cy="343.1" r="4.2" fill="#B8E186"/>
<circle cx="226" cy="342.6" r="4.2" fill="#92C5DE"/>
<circle cx="166.4" cy="362.7" r="4.2" fill="#B8E186"/>
<circle cx="219.7" cy="362.7" r="4.2" fill="#92C5DE"/>
<circle cx="174.7" cy="383.4" r="4.2" fill="#F4A582"/>
<circle cx="216.7" cy="383.7" r="4.2" fill="#F4A582"/>
<text x="164.5" y="311.75" font-size="4.1" text-anchor="middle" class="p">Streptococcus mutans</text>
<text x="214.4" y="311.95" font-size="4.1" text-anchor="middle" class="p">Cardiobacterium hominis</text>
<text x="166.4" y="332.45" font-size="4.1" text-anchor="middle" class="p">Enterococcus faecalis</text>
<text x="219.9" y="332.45" font-size="4.1" text-anchor="middle" class="p">Snodgrassella alvi</text>
<text x="160.1" y="353.15" font-size="4.1" text-anchor="middle" class="p">Eisenbergiella massiliensis</text>
<text x="226" y="352.65" font-size="4.1" text-anchor="middle" class="p">Dermacoccus profundi</text>
<text x="166.4" y="372.75" font-size="4.1" text-anchor="middle" class="p">Lawsonibacter asaccharolyticus</text>
<text x="219.7" y="372.75" font-size="4.1" text-anchor="middle" class="p">Mobiluncus curtisii</text>
<text x="174.7" y="393.45" font-size="4.1" text-anchor="middle" class="p">Prevotella nigrescens</text>
<text x="216.7" y="393.75" font-size="4.1" text-anchor="middle" class="p">Alistipes finegoldii</text>
<g stroke="#7FCB7F" stroke-width="0.32" stroke-dasharray="1.6 0.5" fill="none">
<line x1="275" y1="302.3" x2="331.5" y2="324.7"/>
<line x1="275" y1="302.3" x2="337.8" y2="344.8"/>
<line x1="275" y1="302.3" x2="331.5" y2="365"/>
<line x1="275" y1="302.3" x2="278" y2="324.7"/>
<line x1="275" y1="302.3" x2="278" y2="365"/>
<line x1="275" y1="302.3" x2="328.8" y2="383.9"/>
<line x1="275" y1="302.3" x2="271.9" y2="345.4"/>
<line x1="278" y1="324.7" x2="325.3" y2="302.3"/>
<line x1="278" y1="324.7" x2="331.5" y2="324.7"/>
<line x1="278" y1="324.7" x2="337.8" y2="344.8"/>
<line x1="278" y1="324.7" x2="331.5" y2="365"/>
<line x1="278" y1="324.7" x2="328.8" y2="383.9"/>
<line x1="278" y1="324.7" x2="271.9" y2="345.4"/>
<line x1="278" y1="324.7" x2="278" y2="365"/>
<line x1="278" y1="365" x2="325.3" y2="302.3"/>
<line x1="278" y1="365" x2="331.5" y2="324.7"/>
<line x1="278" y1="365" x2="331.5" y2="365"/>
<line x1="278" y1="365" x2="287" y2="383.9"/>
<line x1="287" y1="383.9" x2="331.5" y2="324.7"/>
<line x1="287" y1="383.9" x2="337.8" y2="344.8"/>
<line x1="287" y1="383.9" x2="331.5" y2="365"/>
<line x1="325.3" y1="302.3" x2="331.5" y2="324.7"/>
<line x1="325.3" y1="302.3" x2="331.5" y2="365"/>
<line x1="325.3" y1="302.3" x2="328.8" y2="383.9"/>
<line x1="331.5" y1="324.7" x2="331.5" y2="365"/>
<line x1="337.8" y1="344.8" x2="331.5" y2="365"/>
<line x1="331.5" y1="324.7" x2="337.8" y2="344.8"/>
<line x1="271.9" y1="345.4" x2="325.3" y2="302.3"/>
</g>
<g stroke="#F27BA5" stroke-width="0.45" fill="none">
<line x1="275" y1="302.65" x2="325.3" y2="302.65"/>
<line x1="325.3" y1="302.3" x2="287" y2="383.9"/>
<line x1="337.8" y1="344.8" x2="278" y2="365"/>
</g>
<circle cx="275" cy="302.3" r="4.2" fill="#B8E186"/>
<circle cx="325.3" cy="302.3" r="4.2" fill="#F1B6DA"/>
<circle cx="278" cy="324.7" r="4.2" fill="#B8E186"/>
<circle cx="331.5" cy="324.7" r="4.2" fill="#F1B6DA"/>
<circle cx="271.9" cy="345.4" r="4.2" fill="#B8E186"/>
<circle cx="337.8" cy="344.8" r="4.2" fill="#92C5DE"/>
<circle cx="278" cy="365" r="4.2" fill="#B8E186"/>
<circle cx="331.5" cy="365" r="4.2" fill="#92C5DE"/>
<circle cx="287" cy="383.9" r="4.2" fill="#F4A582"/>
<circle cx="328.8" cy="383.9" r="4.2" fill="#F4A582"/>
<text x="275" y="312.35" font-size="4.1" text-anchor="middle" class="p">Streptococcus mutans</text>
<text x="325.3" y="312.35" font-size="4.1" text-anchor="middle" class="p">Cardiobacterium hominis</text>
<text x="278" y="334.75" font-size="4.1" text-anchor="middle" class="p">Enterococcus faecalis</text>
<text x="331.5" y="334.75" font-size="4.1" text-anchor="middle" class="p">Snodgrassella alvi</text>
<text x="271.9" y="355.45" font-size="4.1" text-anchor="middle" class="p">Eisenbergiella massiliensis</text>
<text x="337.8" y="354.85" font-size="4.1" text-anchor="middle" class="p">Dermacoccus profundi</text>
<text x="278" y="375.05" font-size="4.1" text-anchor="middle" class="p">Lawsonibacter asaccharolyticus</text>
<text x="331.5" y="375.05" font-size="4.1" text-anchor="middle" class="p">Mobiluncus curtisii</text>
<text x="287" y="393.95" font-size="4.1" text-anchor="middle" class="p">Prevotella nigrescens</text>
<text x="328.8" y="393.95" font-size="4.1" text-anchor="middle" class="p">Alistipes finegoldii</text>
<g stroke="#7FCB7F" stroke-width="0.32" stroke-dasharray="1.6 0.5" fill="none">
<line x1="391.8" y1="301.9" x2="443.1" y2="321.9"/>
<line x1="391.8" y1="301.9" x2="449.3" y2="342"/>
<line x1="391.8" y1="301.9" x2="442.9" y2="362.2"/>
<line x1="391.8" y1="301.9" x2="389.7" y2="321.9"/>
<line x1="391.8" y1="301.9" x2="389.7" y2="362.2"/>
<line x1="391.8" y1="301.9" x2="440.3" y2="381.6"/>
<line x1="391.8" y1="301.9" x2="383" y2="342.2"/>
<line x1="389.7" y1="321.9" x2="443.1" y2="301.9"/>
<line x1="389.7" y1="321.9" x2="443.1" y2="321.9"/>
<line x1="389.7" y1="321.9" x2="449.3" y2="342"/>
<line x1="389.7" y1="321.9" x2="442.9" y2="362.2"/>
<line x1="389.7" y1="321.9" x2="440.3" y2="381.6"/>
<line x1="389.7" y1="321.9" x2="383" y2="342.2"/>
<line x1="389.7" y1="321.9" x2="389.7" y2="362.2"/>
<line x1="389.7" y1="362.2" x2="443.1" y2="301.9"/>
<line x1="389.7" y1="362.2" x2="443.1" y2="321.9"/>
<line x1="389.7" y1="362.2" x2="442.9" y2="362.2"/>
<line x1="389.7" y1="362.2" x2="398.4" y2="382"/>
<line x1="398.4" y1="382" x2="443.1" y2="321.9"/>
<line x1="398.4" y1="382" x2="449.3" y2="342"/>
<line x1="398.4" y1="382" x2="442.9" y2="362.2"/>
<line x1="443.1" y1="301.9" x2="443.1" y2="321.9"/>
<line x1="443.1" y1="301.9" x2="442.9" y2="362.2"/>
<line x1="443.1" y1="301.9" x2="440.3" y2="381.6"/>
<line x1="443.1" y1="321.9" x2="442.9" y2="362.2"/>
<line x1="449.3" y1="342" x2="442.9" y2="362.2"/>
<line x1="443.1" y1="321.9" x2="449.3" y2="342"/>
<line x1="383" y1="342.2" x2="443.1" y2="301.9"/>
</g>
<g stroke="#F27BA5" stroke-width="0.45" fill="none">
<line x1="391.8" y1="302.25" x2="443.1" y2="302.25"/>
<line x1="443.1" y1="301.9" x2="398.4" y2="382"/>
<line x1="449.3" y1="342" x2="389.7" y2="362.2"/>
</g>
<circle cx="391.8" cy="301.9" r="4.2" fill="#B8E186"/>
<circle cx="443.1" cy="301.9" r="4.2" fill="#F1B6DA"/>
<circle cx="389.7" cy="321.9" r="4.2" fill="#B8E186"/>
<circle cx="443.1" cy="321.9" r="4.2" fill="#F1B6DA"/>
<circle cx="383" cy="342.2" r="4.2" fill="#B8E186"/>
<circle cx="449.3" cy="342" r="4.2" fill="#92C5DE"/>
<circle cx="389.7" cy="362.2" r="4.2" fill="#B8E186"/>
<circle cx="442.9" cy="362.2" r="4.2" fill="#92C5DE"/>
<circle cx="398.4" cy="382" r="4.2" fill="#F4A582"/>
<circle cx="440.3" cy="381.6" r="4.2" fill="#F4A582"/>
<text x="391.8" y="311.95" font-size="4.1" text-anchor="middle" class="p">Streptococcus mutans</text>
<text x="443.1" y="311.95" font-size="4.1" text-anchor="middle" class="p">Cardiobacterium hominis</text>
<text x="389.7" y="331.95" font-size="4.1" text-anchor="middle" class="p">Enterococcus faecalis</text>
<text x="443.1" y="331.95" font-size="4.1" text-anchor="middle" class="p">Snodgrassella alvi</text>
<text x="383" y="352.25" font-size="4.1" text-anchor="middle" class="p">Eisenbergiella massiliensis</text>
<text x="449.3" y="352.05" font-size="4.1" text-anchor="middle" class="p">Dermacoccus profundi</text>
<text x="389.7" y="372.25" font-size="4.1" text-anchor="middle" class="p">Lawsonibacter asaccharolyticus</text>
<text x="442.9" y="372.25" font-size="4.1" text-anchor="middle" class="p">Mobiluncus curtisii</text>
<text x="398.4" y="392.05" font-size="4.1" text-anchor="middle" class="p">Prevotella nigrescens</text>
<text x="440.3" y="391.65" font-size="4.1" text-anchor="middle" class="p">Alistipes finegoldii</text>
<line x1="475.1" y1="303.5" x2="606.9" y2="303.5" stroke="#333" stroke-width="0.6"/>
<line x1="475.1" y1="311.9" x2="606.9" y2="311.9" stroke="#333" stroke-width="0.5"/>
<line x1="475.1" y1="326.6" x2="606.9" y2="326.6" stroke="#333" stroke-width="0.4"/>
<line x1="475.1" y1="341.3" x2="606.9" y2="341.3" stroke="#333" stroke-width="0.4"/>
<line x1="475.1" y1="375" x2="606.9" y2="375" stroke="#333" stroke-width="0.4"/>
<line x1="475.1" y1="390.4" x2="606.9" y2="390.4" stroke="#333" stroke-width="0.6"/>
<rect x="582" y="312.2" width="24.9" height="14.2" fill="#92C5DE"/>
<rect x="582" y="326.8" width="24.9" height="14.3" fill="#F4A582"/>
<rect x="582" y="341.5" width="24.9" height="33.3" fill="#B8E186"/>
<rect x="582" y="375.2" width="24.9" height="15" fill="#F1B6DA"/>
<text x="475.6" y="309.46" font-size="4.6" font-weight="bold">Species</text>
<text x="546.6" y="309.53" font-size="4.8" font-weight="bold">Phylum</text>
<text x="582" y="309.53" font-size="4.8" font-weight="bold">Color key</text>
<text x="475.6" y="317.9" font-size="4.85">Dermacoccus profundi</text>
<text x="475.6" y="325.4" font-size="4.85">Mobiluncus curtisii</text>
<text x="475.6" y="332.6" font-size="4.85">Alistipes finegoldii</text>
<text x="475.6" y="340.2" font-size="4.85">Prevotella nigrescens</text>
<text x="475.6" y="348.9" font-size="4.85">Lawsonibacter asaccharolyticus</text>
<text x="475.6" y="358.1" font-size="4.85">Eisenbergiella massiliensis</text>
<text x="475.6" y="365.7" font-size="4.85">Enterococcus faecalis</text>
<text x="475.6" y="373.1" font-size="4.85">Streptococcus mutans</text>
<text x="475.6" y="381.2" font-size="4.85">Cardiobacterium hominis</text>
<text x="475.6" y="389" font-size="4.85">Snodgrassella alvi</text>
<text x="546.6" y="320.9" font-size="4.85">Actinobacteria</text>
<text x="546.6" y="336.3" font-size="4.85">Bacteroidota</text>
<text x="546.6" y="360.6" font-size="4.85">Firmicutes</text>
<text x="546.6" y="384.7" font-size="4.85">Proteobacteria</text>
<rect x="34.05" y="416.2" width="82.85" height="57.4" fill="#EBEBEB"/>
<line x1="49.53" y1="416.2" x2="49.53" y2="473.6" stroke="#fff" stroke-width="0.3"/>
<line x1="75.48" y1="416.2" x2="75.48" y2="473.6" stroke="#fff" stroke-width="0.3"/>
<line x1="101.42" y1="416.2" x2="101.42" y2="473.6" stroke="#fff" stroke-width="0.3"/>
<line x1="34.05" y1="470.9" x2="116.9" y2="470.9" stroke="#fff" stroke-width="0.25"/>
<line x1="33.3" y1="470.9" x2="34.05" y2="470.9" stroke="#333" stroke-width="0.22"/>
<text x="32.75" y="472.05" font-size="2.5" text-anchor="end" fill="#333" class="p">0.00</text>
<line x1="34.05" y1="457.89" x2="116.9" y2="457.89" stroke="#fff" stroke-width="0.25"/>
<line x1="33.3" y1="457.89" x2="34.05" y2="457.89" stroke="#333" stroke-width="0.22"/>
<text x="32.75" y="459.04" font-size="2.5" text-anchor="end" fill="#333" class="p">0.25</text>
<line x1="34.05" y1="444.88" x2="116.9" y2="444.88" stroke="#fff" stroke-width="0.25"/>
<line x1="33.3" y1="444.88" x2="34.05" y2="444.88" stroke="#333" stroke-width="0.22"/>
<text x="32.75" y="446.02" font-size="2.5" text-anchor="end" fill="#333" class="p">0.50</text>
<line x1="34.05" y1="431.86" x2="116.9" y2="431.86" stroke="#fff" stroke-width="0.25"/>
<line x1="33.3" y1="431.86" x2="34.05" y2="431.86" stroke="#333" stroke-width="0.22"/>
<text x="32.75" y="433.01" font-size="2.5" text-anchor="end" fill="#333" class="p">0.75</text>
<line x1="34.05" y1="418.85" x2="116.9" y2="418.85" stroke="#fff" stroke-width="0.25"/>
<line x1="33.3" y1="418.85" x2="34.05" y2="418.85" stroke="#333" stroke-width="0.22"/>
<text x="32.75" y="420" font-size="2.5" text-anchor="end" fill="#333" class="p">1.00</text>
<text x="33.85" y="414.7" font-size="4.05" class="p" stroke="#000" stroke-width="0.04">Mobiluncus curtisii</text>
<text transform="translate(26.75,444.88) rotate(-90)" font-size="3.2" text-anchor="middle" class="p">count</text>
<rect x="37.95" y="418.85" width="23.15" height="52.05" fill="#00BFC4"/>
<rect x="37.95" y="418.85" width="23.15" height="8.22" fill="#F8766D"/>
<text x="49.53" y="424.22" font-size="3.5" text-anchor="middle" class="p">6</text>
<text x="49.53" y="450.24" font-size="3.5" text-anchor="middle" class="p">32</text>
<line x1="49.53" y1="473.6" x2="49.53" y2="474.3" stroke="#333" stroke-width="0.2"/>
<text x="49.53" y="476.25" font-size="2.6" text-anchor="middle" fill="#333" class="p">TB</text>
<rect x="63.9" y="418.85" width="23.15" height="52.05" fill="#00BFC4"/>
<rect x="63.9" y="418.85" width="23.15" height="1.79" fill="#F8766D"/>
<text x="75.48" y="421.01" font-size="3.5" text-anchor="middle" class="p">1</text>
<text x="75.48" y="447.03" font-size="3.5" text-anchor="middle" class="p">28</text>
<line x1="75.48" y1="473.6" x2="75.48" y2="474.3" stroke="#333" stroke-width="0.2"/>
<text x="75.48" y="476.25" font-size="2.6" text-anchor="middle" fill="#333" class="p">NTM</text>
<rect x="89.85" y="418.85" width="23.15" height="52.05" fill="#00BFC4"/>
<rect x="89.85" y="418.85" width="23.15" height="12.7" fill="#F8766D"/>
<text x="101.42" y="426.46" font-size="3.5" text-anchor="middle" class="p">10</text>
<text x="101.42" y="452.48" font-size="3.5" text-anchor="middle" class="p">31</text>
<line x1="101.42" y1="473.6" x2="101.42" y2="474.3" stroke="#333" stroke-width="0.2"/>
<text x="101.42" y="476.25" font-size="2.6" text-anchor="middle" fill="#333" class="p">Others</text>
<text x="75.48" y="480.15" font-size="3.3" text-anchor="middle" class="p">Class</text>
<rect x="128.1" y="416.2" width="82.85" height="57.4" fill="#EBEBEB"/>
<line x1="143.57" y1="416.2" x2="143.57" y2="473.6" stroke="#fff" stroke-width="0.3"/>
<line x1="169.52" y1="416.2" x2="169.52" y2="473.6" stroke="#fff" stroke-width="0.3"/>
<line x1="195.47" y1="416.2" x2="195.47" y2="473.6" stroke="#fff" stroke-width="0.3"/>
<line x1="128.1" y1="470.9" x2="210.95" y2="470.9" stroke="#fff" stroke-width="0.25"/>
<line x1="127.35" y1="470.9" x2="128.1" y2="470.9" stroke="#333" stroke-width="0.22"/>
<text x="126.8" y="472.05" font-size="2.5" text-anchor="end" fill="#333" class="p">0.00</text>
<line x1="128.1" y1="457.89" x2="210.95" y2="457.89" stroke="#fff" stroke-width="0.25"/>
<line x1="127.35" y1="457.89" x2="128.1" y2="457.89" stroke="#333" stroke-width="0.22"/>
<text x="126.8" y="459.04" font-size="2.5" text-anchor="end" fill="#333" class="p">0.25</text>
<line x1="128.1" y1="444.88" x2="210.95" y2="444.88" stroke="#fff" stroke-width="0.25"/>
<line x1="127.35" y1="444.88" x2="128.1" y2="444.88" stroke="#333" stroke-width="0.22"/>
<text x="126.8" y="446.02" font-size="2.5" text-anchor="end" fill="#333" class="p">0.50</text>
<line x1="128.1" y1="431.86" x2="210.95" y2="431.86" stroke="#fff" stroke-width="0.25"/>
<line x1="127.35" y1="431.86" x2="128.1" y2="431.86" stroke="#333" stroke-width="0.22"/>
<text x="126.8" y="433.01" font-size="2.5" text-anchor="end" fill="#333" class="p">0.75</text>
<line x1="128.1" y1="418.85" x2="210.95" y2="418.85" stroke="#fff" stroke-width="0.25"/>
<line x1="127.35" y1="418.85" x2="128.1" y2="418.85" stroke="#333" stroke-width="0.22"/>
<text x="126.8" y="420" font-size="2.5" text-anchor="end" fill="#333" class="p">1.00</text>
<text x="127.9" y="414.7" font-size="4.05" class="p" stroke="#000" stroke-width="0.04">Dermacoccus profundi</text>
<text transform="translate(120.8,444.88) rotate(-90)" font-size="3.2" text-anchor="middle" class="p">count</text>
<rect x="132" y="418.85" width="23.15" height="52.05" fill="#00BFC4"/>
<rect x="132" y="418.85" width="23.15" height="10.96" fill="#F8766D"/>
<text x="143.57" y="425.59" font-size="3.5" text-anchor="middle" class="p">8</text>
<text x="143.57" y="451.61" font-size="3.5" text-anchor="middle" class="p">30</text>
<line x1="143.57" y1="473.6" x2="143.57" y2="474.3" stroke="#333" stroke-width="0.2"/>
<text x="143.57" y="476.25" font-size="2.6" text-anchor="middle" fill="#333" class="p">TB</text>
<rect x="157.95" y="418.85" width="23.15" height="52.05" fill="#00BFC4"/>
<rect x="157.95" y="418.85" width="23.15" height="1.79" fill="#F8766D"/>
<text x="169.52" y="421.01" font-size="3.5" text-anchor="middle" class="p">1</text>
<text x="169.52" y="447.03" font-size="3.5" text-anchor="middle" class="p">28</text>
<line x1="169.52" y1="473.6" x2="169.52" y2="474.3" stroke="#333" stroke-width="0.2"/>
<text x="169.52" y="476.25" font-size="2.6" text-anchor="middle" fill="#333" class="p">NTM</text>
<rect x="183.9" y="418.85" width="23.15" height="52.05" fill="#00BFC4"/>
<rect x="183.9" y="418.85" width="23.15" height="12.7" fill="#F8766D"/>
<text x="195.47" y="426.46" font-size="3.5" text-anchor="middle" class="p">10</text>
<text x="195.47" y="452.48" font-size="3.5" text-anchor="middle" class="p">31</text>
<line x1="195.47" y1="473.6" x2="195.47" y2="474.3" stroke="#333" stroke-width="0.2"/>
<text x="195.47" y="476.25" font-size="2.6" text-anchor="middle" fill="#333" class="p">Others</text>
<text x="169.52" y="480.15" font-size="3.3" text-anchor="middle" class="p">Class</text>
<rect x="222.15" y="416.2" width="82.85" height="57.4" fill="#EBEBEB"/>
<line x1="237.62" y1="416.2" x2="237.62" y2="473.6" stroke="#fff" stroke-width="0.3"/>
<line x1="263.57" y1="416.2" x2="263.57" y2="473.6" stroke="#fff" stroke-width="0.3"/>
<line x1="289.52" y1="416.2" x2="289.52" y2="473.6" stroke="#fff" stroke-width="0.3"/>
<line x1="222.15" y1="470.9" x2="305" y2="470.9" stroke="#fff" stroke-width="0.25"/>
<line x1="221.4" y1="470.9" x2="222.15" y2="470.9" stroke="#333" stroke-width="0.22"/>
<text x="220.85" y="472.05" font-size="2.5" text-anchor="end" fill="#333" class="p">0.00</text>
<line x1="222.15" y1="457.89" x2="305" y2="457.89" stroke="#fff" stroke-width="0.25"/>
<line x1="221.4" y1="457.89" x2="222.15" y2="457.89" stroke="#333" stroke-width="0.22"/>
<text x="220.85" y="459.04" font-size="2.5" text-anchor="end" fill="#333" class="p">0.25</text>
<line x1="222.15" y1="444.88" x2="305" y2="444.88" stroke="#fff" stroke-width="0.25"/>
<line x1="221.4" y1="444.88" x2="222.15" y2="444.88" stroke="#333" stroke-width="0.22"/>
<text x="220.85" y="446.02" font-size="2.5" text-anchor="end" fill="#333" class="p">0.50</text>
<line x1="222.15" y1="431.86" x2="305" y2="431.86" stroke="#fff" stroke-width="0.25"/>
<line x1="221.4" y1="431.86" x2="222.15" y2="431.86" stroke="#333" stroke-width="0.22"/>
<text x="220.85" y="433.01" font-size="2.5" text-anchor="end" fill="#333" class="p">0.75</text>
<line x1="222.15" y1="418.85" x2="305" y2="418.85" stroke="#fff" stroke-width="0.25"/>
<line x1="221.4" y1="418.85" x2="222.15" y2="418.85" stroke="#333" stroke-width="0.22"/>
<text x="220.85" y="420" font-size="2.5" text-anchor="end" fill="#333" class="p">1.00</text>
<text x="221.95" y="414.7" font-size="4.05" class="p" stroke="#000" stroke-width="0.04">Prevotella nigrescens</text>
<text transform="translate(214.85,444.88) rotate(-90)" font-size="3.2" text-anchor="middle" class="p">count</text>
<rect x="226.05" y="418.85" width="23.15" height="52.05" fill="#00BFC4"/>
<rect x="226.05" y="418.85" width="23.15" height="10.96" fill="#F8766D"/>
<text x="237.62" y="425.59" font-size="3.5" text-anchor="middle" class="p">8</text>
<text x="237.62" y="451.61" font-size="3.5" text-anchor="middle" class="p">30</text>
<line x1="237.62" y1="473.6" x2="237.62" y2="474.3" stroke="#333" stroke-width="0.2"/>
<text x="237.62" y="476.25" font-size="2.6" text-anchor="middle" fill="#333" class="p">TB</text>
<rect x="252" y="418.85" width="23.15" height="52.05" fill="#00BFC4"/>
<rect x="252" y="418.85" width="23.15" height="17.95" fill="#F8766D"/>
<text x="263.57" y="429.08" font-size="3.5" text-anchor="middle" class="p">10</text>
<text x="263.57" y="455.11" font-size="3.5" text-anchor="middle" class="p">19</text>
<line x1="263.57" y1="473.6" x2="263.57" y2="474.3" stroke="#333" stroke-width="0.2"/>
<text x="263.57" y="476.25" font-size="2.6" text-anchor="middle" fill="#333" class="p">NTM</text>
<rect x="277.95" y="418.85" width="23.15" height="52.05" fill="#00BFC4"/>
<rect x="277.95" y="418.85" width="23.15" height="5.08" fill="#F8766D"/>
<text x="289.52" y="422.65" font-size="3.5" text-anchor="middle" class="p">4</text>
<text x="289.52" y="448.67" font-size="3.5" text-anchor="middle" class="p">37</text>
<line x1="289.52" y1="473.6" x2="289.52" y2="474.3" stroke="#333" stroke-width="0.2"/>
<text x="289.52" y="476.25" font-size="2.6" text-anchor="middle" fill="#333" class="p">Others</text>
<text x="263.57" y="480.15" font-size="3.3" text-anchor="middle" class="p">Class</text>
<rect x="316.2" y="416.2" width="82.85" height="57.4" fill="#EBEBEB"/>
<line x1="331.67" y1="416.2" x2="331.67" y2="473.6" stroke="#fff" stroke-width="0.3"/>
<line x1="357.62" y1="416.2" x2="357.62" y2="473.6" stroke="#fff" stroke-width="0.3"/>
<line x1="383.57" y1="416.2" x2="383.57" y2="473.6" stroke="#fff" stroke-width="0.3"/>
<line x1="316.2" y1="470.9" x2="399.05" y2="470.9" stroke="#fff" stroke-width="0.25"/>
<line x1="315.45" y1="470.9" x2="316.2" y2="470.9" stroke="#333" stroke-width="0.22"/>
<text x="314.9" y="472.05" font-size="2.5" text-anchor="end" fill="#333" class="p">0.00</text>
<line x1="316.2" y1="457.89" x2="399.05" y2="457.89" stroke="#fff" stroke-width="0.25"/>
<line x1="315.45" y1="457.89" x2="316.2" y2="457.89" stroke="#333" stroke-width="0.22"/>
<text x="314.9" y="459.04" font-size="2.5" text-anchor="end" fill="#333" class="p">0.25</text>
<line x1="316.2" y1="444.88" x2="399.05" y2="444.88" stroke="#fff" stroke-width="0.25"/>
<line x1="315.45" y1="444.88" x2="316.2" y2="444.88" stroke="#333" stroke-width="0.22"/>
<text x="314.9" y="446.02" font-size="2.5" text-anchor="end" fill="#333" class="p">0.50</text>
<line x1="316.2" y1="431.86" x2="399.05" y2="431.86" stroke="#fff" stroke-width="0.25"/>
<line x1="315.45" y1="431.86" x2="316.2" y2="431.86" stroke="#333" stroke-width="0.22"/>
<text x="314.9" y="433.01" font-size="2.5" text-anchor="end" fill="#333" class="p">0.75</text>
<line x1="316.2" y1="418.85" x2="399.05" y2="418.85" stroke="#fff" stroke-width="0.25"/>
<line x1="315.45" y1="418.85" x2="316.2" y2="418.85" stroke="#333" stroke-width="0.22"/>
<text x="314.9" y="420" font-size="2.5" text-anchor="end" fill="#333" class="p">1.00</text>
<text x="316" y="414.7" font-size="4.05" class="p" stroke="#000" stroke-width="0.04">Alistipes finegoldii</text>
<text transform="translate(308.9,444.88) rotate(-90)" font-size="3.2" text-anchor="middle" class="p">count</text>
<rect x="320.1" y="418.85" width="23.15" height="52.05" fill="#00BFC4"/>
<text x="331.67" y="446.13" font-size="3.5" text-anchor="middle" class="p">38</text>
<line x1="331.67" y1="473.6" x2="331.67" y2="474.3" stroke="#333" stroke-width="0.2"/>
<text x="331.67" y="476.25" font-size="2.6" text-anchor="middle" fill="#333" class="p">TB</text>
<rect x="346.05" y="418.85" width="23.15" height="52.05" fill="#00BFC4"/>
<text x="357.62" y="446.13" font-size="3.5" text-anchor="middle" class="p">29</text>
<line x1="357.62" y1="473.6" x2="357.62" y2="474.3" stroke="#333" stroke-width="0.2"/>
<text x="357.62" y="476.25" font-size="2.6" text-anchor="middle" fill="#333" class="p">NTM</text>
<rect x="372" y="418.85" width="23.15" height="52.05" fill="#00BFC4"/>
<rect x="372" y="418.85" width="23.15" height="5.08" fill="#F8766D"/>
<text x="383.57" y="422.65" font-size="3.5" text-anchor="middle" class="p">4</text>
<text x="383.57" y="448.67" font-size="3.5" text-anchor="middle" class="p">37</text>
<line x1="383.57" y1="473.6" x2="383.57" y2="474.3" stroke="#333" stroke-width="0.2"/>
<text x="383.57" y="476.25" font-size="2.6" text-anchor="middle" fill="#333" class="p">Others</text>
<text x="357.62" y="480.15" font-size="3.3" text-anchor="middle" class="p">Class</text>
<rect x="410.25" y="416.2" width="82.85" height="57.4" fill="#EBEBEB"/>
<line x1="425.72" y1="416.2" x2="425.72" y2="473.6" stroke="#fff" stroke-width="0.3"/>
<line x1="451.67" y1="416.2" x2="451.67" y2="473.6" stroke="#fff" stroke-width="0.3"/>
<line x1="477.62" y1="416.2" x2="477.62" y2="473.6" stroke="#fff" stroke-width="0.3"/>
<line x1="410.25" y1="470.9" x2="493.1" y2="470.9" stroke="#fff" stroke-width="0.25"/>
<line x1="409.5" y1="470.9" x2="410.25" y2="470.9" stroke="#333" stroke-width="0.22"/>
<text x="408.95" y="472.05" font-size="2.5" text-anchor="end" fill="#333" class="p">0.00</text>
<line x1="410.25" y1="457.89" x2="493.1" y2="457.89" stroke="#fff" stroke-width="0.25"/>
<line x1="409.5" y1="457.89" x2="410.25" y2="457.89" stroke="#333" stroke-width="0.22"/>
<text x="408.95" y="459.04" font-size="2.5" text-anchor="end" fill="#333" class="p">0.25</text>
<line x1="410.25" y1="444.88" x2="493.1" y2="444.88" stroke="#fff" stroke-width="0.25"/>
<line x1="409.5" y1="444.88" x2="410.25" y2="444.88" stroke="#333" stroke-width="0.22"/>
<text x="408.95" y="446.02" font-size="2.5" text-anchor="end" fill="#333" class="p">0.50</text>
<line x1="410.25" y1="431.86" x2="493.1" y2="431.86" stroke="#fff" stroke-width="0.25"/>
<line x1="409.5" y1="431.86" x2="410.25" y2="431.86" stroke="#333" stroke-width="0.22"/>
<text x="408.95" y="433.01" font-size="2.5" text-anchor="end" fill="#333" class="p">0.75</text>
<line x1="410.25" y1="418.85" x2="493.1" y2="418.85" stroke="#fff" stroke-width="0.25"/>
<line x1="409.5" y1="418.85" x2="410.25" y2="418.85" stroke="#333" stroke-width="0.22"/>
<text x="408.95" y="420" font-size="2.5" text-anchor="end" fill="#333" class="p">1.00</text>
<text x="410.05" y="414.7" font-size="4.05" class="p" stroke="#000" stroke-width="0.04">Enterococcus faecalis</text>
<text transform="translate(402.95,444.88) rotate(-90)" font-size="3.2" text-anchor="middle" class="p">count</text>
<rect x="414.15" y="418.85" width="23.15" height="52.05" fill="#00BFC4"/>
<rect x="414.15" y="418.85" width="23.15" height="12.33" fill="#F8766D"/>
<text x="425.72" y="426.27" font-size="3.5" text-anchor="middle" class="p">9</text>
<text x="425.72" y="452.3" font-size="3.5" text-anchor="middle" class="p">29</text>
<line x1="425.72" y1="473.6" x2="425.72" y2="474.3" stroke="#333" stroke-width="0.2"/>
<text x="425.72" y="476.25" font-size="2.6" text-anchor="middle" fill="#333" class="p">TB</text>
<rect x="440.1" y="418.85" width="23.15" height="52.05" fill="#00BFC4"/>
<text x="451.67" y="446.13" font-size="3.5" text-anchor="middle" class="p">29</text>
<line x1="451.67" y1="473.6" x2="451.67" y2="474.3" stroke="#333" stroke-width="0.2"/>
<text x="451.67" y="476.25" font-size="2.6" text-anchor="middle" fill="#333" class="p">NTM</text>
<rect x="466.05" y="418.85" width="23.15" height="52.05" fill="#00BFC4"/>
<rect x="466.05" y="418.85" width="23.15" height="5.08" fill="#F8766D"/>
<text x="477.62" y="422.65" font-size="3.5" text-anchor="middle" class="p">4</text>
<text x="477.62" y="448.67" font-size="3.5" text-anchor="middle" class="p">37</text>
<line x1="477.62" y1="473.6" x2="477.62" y2="474.3" stroke="#333" stroke-width="0.2"/>
<text x="477.62" y="476.25" font-size="2.6" text-anchor="middle" fill="#333" class="p">Others</text>
<text x="451.67" y="480.15" font-size="3.3" text-anchor="middle" class="p">Class</text>
<rect x="34.05" y="486.6" width="82.85" height="57.2" fill="#EBEBEB"/>
<line x1="49.53" y1="486.6" x2="49.53" y2="543.8" stroke="#fff" stroke-width="0.3"/>
<line x1="75.48" y1="486.6" x2="75.48" y2="543.8" stroke="#fff" stroke-width="0.3"/>
<line x1="101.42" y1="486.6" x2="101.42" y2="543.8" stroke="#fff" stroke-width="0.3"/>
<line x1="34.05" y1="541.35" x2="116.9" y2="541.35" stroke="#fff" stroke-width="0.25"/>
<line x1="33.3" y1="541.35" x2="34.05" y2="541.35" stroke="#333" stroke-width="0.22"/>
<text x="32.75" y="542.5" font-size="2.5" text-anchor="end" fill="#333" class="p">0.00</text>
<line x1="34.05" y1="528.33" x2="116.9" y2="528.33" stroke="#fff" stroke-width="0.25"/>
<line x1="33.3" y1="528.33" x2="34.05" y2="528.33" stroke="#333" stroke-width="0.22"/>
<text x="32.75" y="529.48" font-size="2.5" text-anchor="end" fill="#333" class="p">0.25</text>
<line x1="34.05" y1="515.3" x2="116.9" y2="515.3" stroke="#fff" stroke-width="0.25"/>
<line x1="33.3" y1="515.3" x2="34.05" y2="515.3" stroke="#333" stroke-width="0.22"/>
<text x="32.75" y="516.45" font-size="2.5" text-anchor="end" fill="#333" class="p">0.50</text>
<line x1="34.05" y1="502.27" x2="116.9" y2="502.27" stroke="#fff" stroke-width="0.25"/>
<line x1="33.3" y1="502.27" x2="34.05" y2="502.27" stroke="#333" stroke-width="0.22"/>
<text x="32.75" y="503.42" font-size="2.5" text-anchor="end" fill="#333" class="p">0.75</text>
<line x1="34.05" y1="489.25" x2="116.9" y2="489.25" stroke="#fff" stroke-width="0.25"/>
<line x1="33.3" y1="489.25" x2="34.05" y2="489.25" stroke="#333" stroke-width="0.22"/>
<text x="32.75" y="490.4" font-size="2.5" text-anchor="end" fill="#333" class="p">1.00</text>
<text x="33.85" y="485.1" font-size="4.05" class="p" stroke="#000" stroke-width="0.04">Streptococcus mutans</text>
<text transform="translate(26.75,515.3) rotate(-90)" font-size="3.2" text-anchor="middle" class="p">count</text>
<rect x="37.95" y="489.25" width="23.15" height="52.1" fill="#00BFC4"/>
<rect x="37.95" y="489.25" width="23.15" height="21.94" fill="#F8766D"/>
<text x="49.53" y="501.48" font-size="3.5" text-anchor="middle" class="p">16</text>
<text x="49.53" y="527.53" font-size="3.5" text-anchor="middle" class="p">22</text>
<line x1="49.53" y1="543.8" x2="49.53" y2="544.5" stroke="#333" stroke-width="0.2"/>
<text x="49.53" y="546.45" font-size="2.6" text-anchor="middle" fill="#333" class="p">TB</text>
<rect x="63.9" y="489.25" width="23.15" height="52.1" fill="#00BFC4"/>
<rect x="63.9" y="489.25" width="23.15" height="12.58" fill="#F8766D"/>
<text x="75.48" y="496.8" font-size="3.5" text-anchor="middle" class="p">7</text>
<text x="75.48" y="522.85" font-size="3.5" text-anchor="middle" class="p">22</text>
<line x1="75.48" y1="543.8" x2="75.48" y2="544.5" stroke="#333" stroke-width="0.2"/>
<text x="75.48" y="546.45" font-size="2.6" text-anchor="middle" fill="#333" class="p">NTM</text>
<rect x="89.85" y="489.25" width="23.15" height="52.1" fill="#00BFC4"/>
<rect x="89.85" y="489.25" width="23.15" height="8.9" fill="#F8766D"/>
<text x="101.42" y="494.96" font-size="3.5" text-anchor="middle" class="p">7</text>
<text x="101.42" y="521.01" font-size="3.5" text-anchor="middle" class="p">34</text>
<line x1="101.42" y1="543.8" x2="101.42" y2="544.5" stroke="#333" stroke-width="0.2"/>
<text x="101.42" y="546.45" font-size="2.6" text-anchor="middle" fill="#333" class="p">Others</text>
<text x="75.48" y="550.35" font-size="3.3" text-anchor="middle" class="p">Class</text>
<rect x="128.1" y="486.6" width="82.85" height="57.2" fill="#EBEBEB"/>
<line x1="143.57" y1="486.6" x2="143.57" y2="543.8" stroke="#fff" stroke-width="0.3"/>
<line x1="169.52" y1="486.6" x2="169.52" y2="543.8" stroke="#fff" stroke-width="0.3"/>
<line x1="195.47" y1="486.6" x2="195.47" y2="543.8" stroke="#fff" stroke-width="0.3"/>
<line x1="128.1" y1="541.35" x2="210.95" y2="541.35" stroke="#fff" stroke-width="0.25"/>
<line x1="127.35" y1="541.35" x2="128.1" y2="541.35" stroke="#333" stroke-width="0.22"/>
<text x="126.8" y="542.5" font-size="2.5" text-anchor="end" fill="#333" class="p">0.00</text>
<line x1="128.1" y1="528.33" x2="210.95" y2="528.33" stroke="#fff" stroke-width="0.25"/>
<line x1="127.35" y1="528.33" x2="128.1" y2="528.33" stroke="#333" stroke-width="0.22"/>
<text x="126.8" y="529.48" font-size="2.5" text-anchor="end" fill="#333" class="p">0.25</text>
<line x1="128.1" y1="515.3" x2="210.95" y2="515.3" stroke="#fff" stroke-width="0.25"/>
<line x1="127.35" y1="515.3" x2="128.1" y2="515.3" stroke="#333" stroke-width="0.22"/>
<text x="126.8" y="516.45" font-size="2.5" text-anchor="end" fill="#333" class="p">0.50</text>
<line x1="128.1" y1="502.27" x2="210.95" y2="502.27" stroke="#fff" stroke-width="0.25"/>
<line x1="127.35" y1="502.27" x2="128.1" y2="502.27" stroke="#333" stroke-width="0.22"/>
<text x="126.8" y="503.42" font-size="2.5" text-anchor="end" fill="#333" class="p">0.75</text>
<line x1="128.1" y1="489.25" x2="210.95" y2="489.25" stroke="#fff" stroke-width="0.25"/>
<line x1="127.35" y1="489.25" x2="128.1" y2="489.25" stroke="#333" stroke-width="0.22"/>
<text x="126.8" y="490.4" font-size="2.5" text-anchor="end" fill="#333" class="p">1.00</text>
<text x="127.9" y="485.1" font-size="4.05" class="p" stroke="#000" stroke-width="0.04">Lawsonibacter asaccharolyticus</text>
<text transform="translate(120.8,515.3) rotate(-90)" font-size="3.2" text-anchor="middle" class="p">count</text>
<rect x="132" y="489.25" width="23.15" height="52.1" fill="#00BFC4"/>
<rect x="132" y="489.25" width="23.15" height="1.37" fill="#F8766D"/>
<text x="143.57" y="491.2" font-size="3.5" text-anchor="middle" class="p">1</text>
<text x="143.57" y="517.25" font-size="3.5" text-anchor="middle" class="p">37</text>
<line x1="143.57" y1="543.8" x2="143.57" y2="544.5" stroke="#333" stroke-width="0.2"/>
<text x="143.57" y="546.45" font-size="2.6" text-anchor="middle" fill="#333" class="p">TB</text>
<rect x="157.95" y="489.25" width="23.15" height="52.1" fill="#00BFC4"/>
<text x="169.52" y="516.56" font-size="3.5" text-anchor="middle" class="p">29</text>
<line x1="169.52" y1="543.8" x2="169.52" y2="544.5" stroke="#333" stroke-width="0.2"/>
<text x="169.52" y="546.45" font-size="2.6" text-anchor="middle" fill="#333" class="p">NTM</text>
<rect x="183.9" y="489.25" width="23.15" height="52.1" fill="#00BFC4"/>
<rect x="183.9" y="489.25" width="23.15" height="7.62" fill="#F8766D"/>
<text x="195.47" y="494.32" font-size="3.5" text-anchor="middle" class="p">6</text>
<text x="195.47" y="520.37" font-size="3.5" text-anchor="middle" class="p">35</text>
<line x1="195.47" y1="543.8" x2="195.47" y2="544.5" stroke="#333" stroke-width="0.2"/>
<text x="195.47" y="546.45" font-size="2.6" text-anchor="middle" fill="#333" class="p">Others</text>
<text x="169.52" y="550.35" font-size="3.3" text-anchor="middle" class="p">Class</text>
<rect x="222.15" y="486.6" width="82.85" height="57.2" fill="#EBEBEB"/>
<line x1="237.62" y1="486.6" x2="237.62" y2="543.8" stroke="#fff" stroke-width="0.3"/>
<line x1="263.57" y1="486.6" x2="263.57" y2="543.8" stroke="#fff" stroke-width="0.3"/>
<line x1="289.52" y1="486.6" x2="289.52" y2="543.8" stroke="#fff" stroke-width="0.3"/>
<line x1="222.15" y1="541.35" x2="305" y2="541.35" stroke="#fff" stroke-width="0.25"/>
<line x1="221.4" y1="541.35" x2="222.15" y2="541.35" stroke="#333" stroke-width="0.22"/>
<text x="220.85" y="542.5" font-size="2.5" text-anchor="end" fill="#333" class="p">0.00</text>
<line x1="222.15" y1="528.33" x2="305" y2="528.33" stroke="#fff" stroke-width="0.25"/>
<line x1="221.4" y1="528.33" x2="222.15" y2="528.33" stroke="#333" stroke-width="0.22"/>
<text x="220.85" y="529.48" font-size="2.5" text-anchor="end" fill="#333" class="p">0.25</text>
<line x1="222.15" y1="515.3" x2="305" y2="515.3" stroke="#fff" stroke-width="0.25"/>
<line x1="221.4" y1="515.3" x2="222.15" y2="515.3" stroke="#333" stroke-width="0.22"/>
<text x="220.85" y="516.45" font-size="2.5" text-anchor="end" fill="#333" class="p">0.50</text>
<line x1="222.15" y1="502.27" x2="305" y2="502.27" stroke="#fff" stroke-width="0.25"/>
<line x1="221.4" y1="502.27" x2="222.15" y2="502.27" stroke="#333" stroke-width="0.22"/>
<text x="220.85" y="503.42" font-size="2.5" text-anchor="end" fill="#333" class="p">0.75</text>
<line x1="222.15" y1="489.25" x2="305" y2="489.25" stroke="#fff" stroke-width="0.25"/>
<line x1="221.4" y1="489.25" x2="222.15" y2="489.25" stroke="#333" stroke-width="0.22"/>
<text x="220.85" y="490.4" font-size="2.5" text-anchor="end" fill="#333" class="p">1.00</text>
<text x="221.95" y="485.1" font-size="4.05" class="p" stroke="#000" stroke-width="0.04">Eisenbergiella massiliensis</text>
<text transform="translate(214.85,515.3) rotate(-90)" font-size="3.2" text-anchor="middle" class="p">count</text>
<rect x="226.05" y="489.25" width="23.15" height="52.1" fill="#00BFC4"/>
<text x="237.62" y="516.56" font-size="3.5" text-anchor="middle" class="p">38</text>
<line x1="237.62" y1="543.8" x2="237.62" y2="544.5" stroke="#333" stroke-width="0.2"/>
<text x="237.62" y="546.45" font-size="2.6" text-anchor="middle" fill="#333" class="p">TB</text>
<rect x="252" y="489.25" width="23.15" height="52.1" fill="#00BFC4"/>
<text x="263.57" y="516.56" font-size="3.5" text-anchor="middle" class="p">29</text>
<line x1="263.57" y1="543.8" x2="263.57" y2="544.5" stroke="#333" stroke-width="0.2"/>
<text x="263.57" y="546.45" font-size="2.6" text-anchor="middle" fill="#333" class="p">NTM</text>
<rect x="277.95" y="489.25" width="23.15" height="52.1" fill="#00BFC4"/>
<rect x="277.95" y="489.25" width="23.15" height="5.08" fill="#F8766D"/>
<text x="289.52" y="493.05" font-size="3.5" text-anchor="middle" class="p">4</text>
<text x="289.52" y="519.1" font-size="3.5" text-anchor="middle" class="p">37</text>
<line x1="289.52" y1="543.8" x2="289.52" y2="544.5" stroke="#333" stroke-width="0.2"/>
<text x="289.52" y="546.45" font-size="2.6" text-anchor="middle" fill="#333" class="p">Others</text>
<text x="263.57" y="550.35" font-size="3.3" text-anchor="middle" class="p">Class</text>
<rect x="316.2" y="486.6" width="82.85" height="57.2" fill="#EBEBEB"/>
<line x1="331.67" y1="486.6" x2="331.67" y2="543.8" stroke="#fff" stroke-width="0.3"/>
<line x1="357.62" y1="486.6" x2="357.62" y2="543.8" stroke="#fff" stroke-width="0.3"/>
<line x1="383.57" y1="486.6" x2="383.57" y2="543.8" stroke="#fff" stroke-width="0.3"/>
<line x1="316.2" y1="541.35" x2="399.05" y2="541.35" stroke="#fff" stroke-width="0.25"/>
<line x1="315.45" y1="541.35" x2="316.2" y2="541.35" stroke="#333" stroke-width="0.22"/>
<text x="314.9" y="542.5" font-size="2.5" text-anchor="end" fill="#333" class="p">0.00</text>
<line x1="316.2" y1="528.33" x2="399.05" y2="528.33" stroke="#fff" stroke-width="0.25"/>
<line x1="315.45" y1="528.33" x2="316.2" y2="528.33" stroke="#333" stroke-width="0.22"/>
<text x="314.9" y="529.48" font-size="2.5" text-anchor="end" fill="#333" class="p">0.25</text>
<line x1="316.2" y1="515.3" x2="399.05" y2="515.3" stroke="#fff" stroke-width="0.25"/>
<line x1="315.45" y1="515.3" x2="316.2" y2="515.3" stroke="#333" stroke-width="0.22"/>
<text x="314.9" y="516.45" font-size="2.5" text-anchor="end" fill="#333" class="p">0.50</text>
<line x1="316.2" y1="502.27" x2="399.05" y2="502.27" stroke="#fff" stroke-width="0.25"/>
<line x1="315.45" y1="502.27" x2="316.2" y2="502.27" stroke="#333" stroke-width="0.22"/>
<text x="314.9" y="503.42" font-size="2.5" text-anchor="end" fill="#333" class="p">0.75</text>
<line x1="316.2" y1="489.25" x2="399.05" y2="489.25" stroke="#fff" stroke-width="0.25"/>
<line x1="315.45" y1="489.25" x2="316.2" y2="489.25" stroke="#333" stroke-width="0.22"/>
<text x="314.9" y="490.4" font-size="2.5" text-anchor="end" fill="#333" class="p">1.00</text>
<text x="316" y="485.1" font-size="4.05" class="p" stroke="#000" stroke-width="0.04">Snodgrassella alvi</text>
<text transform="translate(308.9,515.3) rotate(-90)" font-size="3.2" text-anchor="middle" class="p">count</text>
<rect x="320.1" y="489.25" width="23.15" height="52.1" fill="#00BFC4"/>
<rect x="320.1" y="489.25" width="23.15" height="9.6" fill="#F8766D"/>
<text x="331.67" y="495.31" font-size="3.5" text-anchor="middle" class="p">7</text>
<text x="331.67" y="521.36" font-size="3.5" text-anchor="middle" class="p">31</text>
<line x1="331.67" y1="543.8" x2="331.67" y2="544.5" stroke="#333" stroke-width="0.2"/>
<text x="331.67" y="546.45" font-size="2.6" text-anchor="middle" fill="#333" class="p">TB</text>
<rect x="346.05" y="489.25" width="23.15" height="52.1" fill="#00BFC4"/>
<text x="357.62" y="516.56" font-size="3.5" text-anchor="middle" class="p">29</text>
<line x1="357.62" y1="543.8" x2="357.62" y2="544.5" stroke="#333" stroke-width="0.2"/>
<text x="357.62" y="546.45" font-size="2.6" text-anchor="middle" fill="#333" class="p">NTM</text>
<rect x="372" y="489.25" width="23.15" height="52.1" fill="#00BFC4"/>
<rect x="372" y="489.25" width="23.15" height="2.54" fill="#F8766D"/>
<text x="383.57" y="491.78" font-size="3.5" text-anchor="middle" class="p">2</text>
<text x="383.57" y="517.83" font-size="3.5" text-anchor="middle" class="p">39</text>
<line x1="383.57" y1="543.8" x2="383.57" y2="544.5" stroke="#333" stroke-width="0.2"/>
<text x="383.57" y="546.45" font-size="2.6" text-anchor="middle" fill="#333" class="p">Others</text>
<text x="357.62" y="550.35" font-size="3.3" text-anchor="middle" class="p">Class</text>
<rect x="410.25" y="486.6" width="82.85" height="57.2" fill="#EBEBEB"/>
<line x1="425.72" y1="486.6" x2="425.72" y2="543.8" stroke="#fff" stroke-width="0.3"/>
<line x1="451.67" y1="486.6" x2="451.67" y2="543.8" stroke="#fff" stroke-width="0.3"/>
<line x1="477.62" y1="486.6" x2="477.62" y2="543.8" stroke="#fff" stroke-width="0.3"/>
<line x1="410.25" y1="541.35" x2="493.1" y2="541.35" stroke="#fff" stroke-width="0.25"/>
<line x1="409.5" y1="541.35" x2="410.25" y2="541.35" stroke="#333" stroke-width="0.22"/>
<text x="408.95" y="542.5" font-size="2.5" text-anchor="end" fill="#333" class="p">0.00</text>
<line x1="410.25" y1="528.33" x2="493.1" y2="528.33" stroke="#fff" stroke-width="0.25"/>
<line x1="409.5" y1="528.33" x2="410.25" y2="528.33" stroke="#333" stroke-width="0.22"/>
<text x="408.95" y="529.48" font-size="2.5" text-anchor="end" fill="#333" class="p">0.25</text>
<line x1="410.25" y1="515.3" x2="493.1" y2="515.3" stroke="#fff" stroke-width="0.25"/>
<line x1="409.5" y1="515.3" x2="410.25" y2="515.3" stroke="#333" stroke-width="0.22"/>
<text x="408.95" y="516.45" font-size="2.5" text-anchor="end" fill="#333" class="p">0.50</text>
<line x1="410.25" y1="502.27" x2="493.1" y2="502.27" stroke="#fff" stroke-width="0.25"/>
<line x1="409.5" y1="502.27" x2="410.25" y2="502.27" stroke="#333" stroke-width="0.22"/>
<text x="408.95" y="503.42" font-size="2.5" text-anchor="end" fill="#333" class="p">0.75</text>
<line x1="410.25" y1="489.25" x2="493.1" y2="489.25" stroke="#fff" stroke-width="0.25"/>
<line x1="409.5" y1="489.25" x2="410.25" y2="489.25" stroke="#333" stroke-width="0.22"/>
<text x="408.95" y="490.4" font-size="2.5" text-anchor="end" fill="#333" class="p">1.00</text>
<text x="410.05" y="485.1" font-size="4.05" class="p" stroke="#000" stroke-width="0.04">Cardiobacterium hominis</text>
<text transform="translate(402.95,515.3) rotate(-90)" font-size="3.2" text-anchor="middle" class="p">count</text>
<rect x="414.15" y="489.25" width="23.15" height="52.1" fill="#00BFC4"/>
<rect x="414.15" y="489.25" width="23.15" height="20.57" fill="#F8766D"/>
<text x="425.72" y="500.79" font-size="3.5" text-anchor="middle" class="p">15</text>
<text x="425.72" y="526.84" font-size="3.5" text-anchor="middle" class="p">23</text>
<line x1="425.72" y1="543.8" x2="425.72" y2="544.5" stroke="#333" stroke-width="0.2"/>
<text x="425.72" y="546.45" font-size="2.6" text-anchor="middle" fill="#333" class="p">TB</text>
<rect x="440.1" y="489.25" width="23.15" height="52.1" fill="#00BFC4"/>
<rect x="440.1" y="489.25" width="23.15" height="30.54" fill="#F8766D"/>
<text x="451.67" y="505.78" font-size="3.5" text-anchor="middle" class="p">17</text>
<text x="451.67" y="531.83" font-size="3.5" text-anchor="middle" class="p">12</text>
<line x1="451.67" y1="543.8" x2="451.67" y2="544.5" stroke="#333" stroke-width="0.2"/>
<text x="451.67" y="546.45" font-size="2.6" text-anchor="middle" fill="#333" class="p">NTM</text>
<rect x="466.05" y="489.25" width="23.15" height="52.1" fill="#00BFC4"/>
<rect x="466.05" y="489.25" width="23.15" height="13.98" fill="#F8766D"/>
<text x="477.62" y="497.5" font-size="3.5" text-anchor="middle" class="p">11</text>
<text x="477.62" y="523.55" font-size="3.5" text-anchor="middle" class="p">30</text>
<line x1="477.62" y1="543.8" x2="477.62" y2="544.5" stroke="#333" stroke-width="0.2"/>
<text x="477.62" y="546.45" font-size="2.6" text-anchor="middle" fill="#333" class="p">Others</text>
<text x="451.67" y="550.35" font-size="3.3" text-anchor="middle" class="p">Class</text>
<line x1="47.4" y1="592.5" x2="47.4" y2="680.6" stroke="#000" stroke-width="0.5"/>
<line x1="47.15" y1="680.6" x2="121.9" y2="680.6" stroke="#000" stroke-width="0.5"/>
<line x1="46.1" y1="680.3" x2="47.4" y2="680.3" stroke="#000" stroke-width="0.4"/>
<text x="45.4" y="682.36" font-size="4.6" text-anchor="end" fill="#1a1a1a">0</text>
<line x1="46.1" y1="654.4" x2="47.4" y2="654.4" stroke="#000" stroke-width="0.4"/>
<text x="45.4" y="656.46" font-size="4.6" text-anchor="end" fill="#1a1a1a">100</text>
<line x1="46.1" y1="628.6" x2="47.4" y2="628.6" stroke="#000" stroke-width="0.4"/>
<text x="45.4" y="630.66" font-size="4.6" text-anchor="end" fill="#1a1a1a">200</text>
<line x1="46.1" y1="603" x2="47.4" y2="603" stroke="#000" stroke-width="0.4"/>
<text x="45.4" y="605.06" font-size="4.6" text-anchor="end" fill="#1a1a1a">300</text>
<text transform="translate(35.59,636.7) rotate(-90)" font-size="4.7" text-anchor="middle">OTUs</text>
<text x="52.3" y="585.79" font-size="4.7">Class</text>
<rect x="66.5" y="582.4" width="4.7" height="3.3" fill="#F5691D" stroke="#333" stroke-width="0.35"/>
<line x1="66.5" y1="584.1" x2="71.2" y2="584.1" stroke="#111" stroke-width="0.4"/>
<text x="73" y="585.58" font-size="4.1" class="p">TB</text>
<rect x="81.2" y="582.4" width="4.7" height="3.3" fill="#3DA543" stroke="#333" stroke-width="0.35"/>
<line x1="81.2" y1="584.1" x2="85.9" y2="584.1" stroke="#111" stroke-width="0.4"/>
<text x="87.7" y="585.58" font-size="4.1" class="p">NTM</text>
<rect x="99.1" y="582.4" width="4.7" height="3.3" fill="#15389B" stroke="#333" stroke-width="0.35"/>
<line x1="99.1" y1="584.1" x2="103.8" y2="584.1" stroke="#111" stroke-width="0.4"/>
<text x="105.6" y="585.58" font-size="4.1" class="p">Others</text>
<line x1="61.4" y1="637.2" x2="61.4" y2="649.5" stroke="#333" stroke-width="0.45"/>
<line x1="61.4" y1="659.6" x2="61.4" y2="671.4" stroke="#333" stroke-width="0.45"/>
<rect x="53.2" y="649.5" width="16.6" height="10.1" fill="#F5691D" stroke="#222" stroke-width="0.4"/>
<line x1="53.2" y1="654.4" x2="69.8" y2="654.4" stroke="#111" stroke-width="0.7"/>
<circle cx="61.4" cy="652.6" r="1.9" fill="#000"/>
<circle cx="61.4" cy="596.7" r="0.75" fill="#000"/>
<line x1="61.4" y1="680.6" x2="61.4" y2="681.9" stroke="#000" stroke-width="0.4"/>
<text x="61.4" y="686.13" font-size="4.8" text-anchor="middle" fill="#1a1a1a">TB</text>
<line x1="84.7" y1="640.3" x2="84.7" y2="652.1" stroke="#333" stroke-width="0.45"/>
<line x1="84.7" y1="661.5" x2="84.7" y2="667" stroke="#333" stroke-width="0.45"/>
<rect x="76.3" y="652.1" width="16.7" height="9.4" fill="#3DA543" stroke="#222" stroke-width="0.4"/>
<line x1="76.3" y1="657.3" x2="93" y2="657.3" stroke="#111" stroke-width="0.7"/>
<circle cx="84.7" cy="657.2" r="1.9" fill="#000"/>
<circle cx="84.7" cy="676.6" r="0.75" fill="#000"/>
<line x1="84.7" y1="680.6" x2="84.7" y2="681.9" stroke="#000" stroke-width="0.4"/>
<text x="84.7" y="686.13" font-size="4.8" text-anchor="middle" fill="#1a1a1a">NTM</text>
<line x1="108.2" y1="641.9" x2="108.2" y2="650.7" stroke="#333" stroke-width="0.45"/>
<line x1="108.2" y1="660.8" x2="108.2" y2="672.8" stroke="#333" stroke-width="0.45"/>
<rect x="100" y="650.7" width="16.6" height="10.1" fill="#15389B" stroke="#222" stroke-width="0.4"/>
<line x1="100" y1="655.6" x2="116.6" y2="655.6" stroke="#111" stroke-width="0.7"/>
<circle cx="108.2" cy="654.9" r="1.9" fill="#000"/>
<circle cx="108.2" cy="626.3" r="0.75" fill="#000"/>
<circle cx="108.2" cy="632.8" r="0.75" fill="#000"/>
<line x1="108.2" y1="680.6" x2="108.2" y2="681.9" stroke="#000" stroke-width="0.4"/>
<text x="108.2" y="686.13" font-size="4.8" text-anchor="middle" fill="#1a1a1a">Others</text>
<text x="84.7" y="691.89" font-size="4.7" text-anchor="middle">Class</text>
<line x1="141.5" y1="592.5" x2="141.5" y2="680.6" stroke="#000" stroke-width="0.5"/>
<line x1="141.25" y1="680.6" x2="216" y2="680.6" stroke="#000" stroke-width="0.5"/>
<line x1="140.2" y1="680.3" x2="141.5" y2="680.3" stroke="#000" stroke-width="0.4"/>
<text x="139.5" y="682.36" font-size="4.6" text-anchor="end" fill="#1a1a1a">0</text>
<line x1="140.2" y1="655.9" x2="141.5" y2="655.9" stroke="#000" stroke-width="0.4"/>
<text x="139.5" y="657.96" font-size="4.6" text-anchor="end" fill="#1a1a1a">100</text>
<line x1="140.2" y1="631.6" x2="141.5" y2="631.6" stroke="#000" stroke-width="0.4"/>
<text x="139.5" y="633.66" font-size="4.6" text-anchor="end" fill="#1a1a1a">200</text>
<line x1="140.2" y1="607.2" x2="141.5" y2="607.2" stroke="#000" stroke-width="0.4"/>
<text x="139.5" y="609.26" font-size="4.6" text-anchor="end" fill="#1a1a1a">300</text>
<text transform="translate(129.59,636.7) rotate(-90)" font-size="4.7" text-anchor="middle">Chao1</text>
<text x="146.3" y="585.79" font-size="4.7">Class</text>
<rect x="160.8" y="582.4" width="4.7" height="3.3" fill="#F5691D" stroke="#333" stroke-width="0.35"/>
<line x1="160.8" y1="584.1" x2="165.5" y2="584.1" stroke="#111" stroke-width="0.4"/>
<text x="167.3" y="585.58" font-size="4.1" class="p">TB</text>
<rect x="175.4" y="582.4" width="4.7" height="3.3" fill="#3DA543" stroke="#333" stroke-width="0.35"/>
<line x1="175.4" y1="584.1" x2="180.1" y2="584.1" stroke="#111" stroke-width="0.4"/>
<text x="181.9" y="585.58" font-size="4.1" class="p">NTM</text>
<rect x="193.2" y="582.4" width="4.7" height="3.3" fill="#15389B" stroke="#333" stroke-width="0.35"/>
<line x1="193.2" y1="584.1" x2="197.9" y2="584.1" stroke="#111" stroke-width="0.4"/>
<text x="199.7" y="585.58" font-size="4.1" class="p">Others</text>
<line x1="155.4" y1="639.3" x2="155.4" y2="646.5" stroke="#333" stroke-width="0.45"/>
<line x1="155.4" y1="659.8" x2="155.4" y2="671" stroke="#333" stroke-width="0.45"/>
<rect x="147.2" y="646.5" width="16.6" height="13.3" fill="#F5691D" stroke="#222" stroke-width="0.4"/>
<line x1="147.2" y1="654.4" x2="163.8" y2="654.4" stroke="#111" stroke-width="0.7"/>
<circle cx="155.4" cy="652.4" r="1.9" fill="#000"/>
<circle cx="155.4" cy="596.7" r="0.75" fill="#000"/>
<line x1="155.4" y1="680.6" x2="155.4" y2="681.9" stroke="#000" stroke-width="0.4"/>
<text x="155.4" y="686.13" font-size="4.8" text-anchor="middle" fill="#1a1a1a">TB</text>
<line x1="178.9" y1="643.9" x2="178.9" y2="653.7" stroke="#333" stroke-width="0.45"/>
<line x1="178.9" y1="661.9" x2="178.9" y2="667.5" stroke="#333" stroke-width="0.45"/>
<rect x="170.5" y="653.7" width="16.4" height="8.2" fill="#3DA543" stroke="#222" stroke-width="0.4"/>
<line x1="170.5" y1="657.3" x2="186.9" y2="657.3" stroke="#111" stroke-width="0.7"/>
<circle cx="178.9" cy="657" r="1.9" fill="#000"/>
<circle cx="178.9" cy="637.5" r="0.75" fill="#000"/>
<circle cx="178.9" cy="676.6" r="0.75" fill="#000"/>
<line x1="178.9" y1="680.6" x2="178.9" y2="681.9" stroke="#000" stroke-width="0.4"/>
<text x="178.9" y="686.13" font-size="4.8" text-anchor="middle" fill="#1a1a1a">NTM</text>
<line x1="202.3" y1="632.5" x2="202.3" y2="648.6" stroke="#333" stroke-width="0.45"/>
<line x1="202.3" y1="660.8" x2="202.3" y2="672.8" stroke="#333" stroke-width="0.45"/>
<rect x="193.9" y="648.6" width="16.7" height="12.2" fill="#15389B" stroke="#222" stroke-width="0.4"/>
<line x1="193.9" y1="656.5" x2="210.6" y2="656.5" stroke="#111" stroke-width="0.7"/>
<circle cx="202.3" cy="654.7" r="1.9" fill="#000"/>
<circle cx="202.3" cy="629" r="0.75" fill="#000"/>
<line x1="202.3" y1="680.6" x2="202.3" y2="681.9" stroke="#000" stroke-width="0.4"/>
<text x="202.3" y="686.13" font-size="4.8" text-anchor="middle" fill="#1a1a1a">Others</text>
<text x="178.9" y="691.89" font-size="4.7" text-anchor="middle">Class</text>
<line x1="229.9" y1="592.5" x2="229.9" y2="680.6" stroke="#000" stroke-width="0.5"/>
<line x1="229.65" y1="680.6" x2="310.1" y2="680.6" stroke="#000" stroke-width="0.5"/>
<line x1="228.6" y1="679.2" x2="229.9" y2="679.2" stroke="#000" stroke-width="0.4"/>
<text x="227.9" y="681.26" font-size="4.6" text-anchor="end" fill="#1a1a1a">0</text>
<line x1="228.6" y1="653.3" x2="229.9" y2="653.3" stroke="#000" stroke-width="0.4"/>
<text x="227.9" y="655.36" font-size="4.6" text-anchor="end" fill="#1a1a1a">2</text>
<line x1="228.6" y1="627.4" x2="229.9" y2="627.4" stroke="#000" stroke-width="0.4"/>
<text x="227.9" y="629.46" font-size="4.6" text-anchor="end" fill="#1a1a1a">4</text>
<line x1="228.6" y1="601.5" x2="229.9" y2="601.5" stroke="#000" stroke-width="0.4"/>
<text x="227.9" y="603.56" font-size="4.6" text-anchor="end" fill="#1a1a1a">6</text>
<text transform="translate(224.09,636.7) rotate(-90)" font-size="4.7" text-anchor="middle">Shannon</text>
<text x="237.8" y="585.79" font-size="4.7">Class</text>
<rect x="252.1" y="582.4" width="4.7" height="3.3" fill="#F5691D" stroke="#333" stroke-width="0.35"/>
<line x1="252.1" y1="584.1" x2="256.8" y2="584.1" stroke="#111" stroke-width="0.4"/>
<text x="258.6" y="585.58" font-size="4.1" class="p">TB</text>
<rect x="266.7" y="582.4" width="4.7" height="3.3" fill="#3DA543" stroke="#333" stroke-width="0.35"/>
<line x1="266.7" y1="584.1" x2="271.4" y2="584.1" stroke="#111" stroke-width="0.4"/>
<text x="273.2" y="585.58" font-size="4.1" class="p">NTM</text>
<rect x="284.5" y="582.4" width="4.7" height="3.3" fill="#15389B" stroke="#333" stroke-width="0.35"/>
<line x1="284.5" y1="584.1" x2="289.2" y2="584.1" stroke="#111" stroke-width="0.4"/>
<text x="291" y="585.58" font-size="4.1" class="p">Others</text>
<line x1="245.1" y1="608.3" x2="245.1" y2="627.6" stroke="#333" stroke-width="0.45"/>
<line x1="245.1" y1="641" x2="245.1" y2="657.3" stroke="#333" stroke-width="0.45"/>
<rect x="236.4" y="627.6" width="17.5" height="13.4" fill="#F5691D" stroke="#222" stroke-width="0.4"/>
<line x1="236.4" y1="634.6" x2="253.9" y2="634.6" stroke="#111" stroke-width="0.7"/>
<circle cx="245.1" cy="634" r="1.9" fill="#000"/>
<circle cx="245.1" cy="596.7" r="0.75" fill="#000"/>
<circle cx="245.1" cy="605.7" r="0.75" fill="#000"/>
<circle cx="245.1" cy="668.4" r="0.75" fill="#000"/>
<line x1="245.1" y1="680.6" x2="245.1" y2="681.9" stroke="#000" stroke-width="0.4"/>
<text x="245.1" y="686.13" font-size="4.8" text-anchor="middle" fill="#1a1a1a">TB</text>
<line x1="270.2" y1="620.2" x2="270.2" y2="628.1" stroke="#333" stroke-width="0.45"/>
<line x1="270.2" y1="638.2" x2="270.2" y2="650.7" stroke="#333" stroke-width="0.45"/>
<rect x="261.4" y="628.1" width="17.5" height="10.1" fill="#3DA543" stroke="#222" stroke-width="0.4"/>
<line x1="261.4" y1="631.4" x2="278.9" y2="631.4" stroke="#111" stroke-width="0.7"/>
<circle cx="270.2" cy="635.1" r="1.9" fill="#000"/>
<circle cx="270.2" cy="676.1" r="0.75" fill="#000"/>
<line x1="270.2" y1="680.6" x2="270.2" y2="681.9" stroke="#000" stroke-width="0.4"/>
<text x="270.2" y="686.13" font-size="4.8" text-anchor="middle" fill="#1a1a1a">NTM</text>
<line x1="295.2" y1="615.3" x2="295.2" y2="625.5" stroke="#333" stroke-width="0.45"/>
<line x1="295.2" y1="639.8" x2="295.2" y2="657.7" stroke="#333" stroke-width="0.45"/>
<rect x="286.3" y="625.5" width="17.7" height="14.3" fill="#15389B" stroke="#222" stroke-width="0.4"/>
<line x1="286.3" y1="631.6" x2="304" y2="631.6" stroke="#111" stroke-width="0.7"/>
<circle cx="295.2" cy="634.2" r="1.9" fill="#000"/>
<circle cx="295.2" cy="663.5" r="0.75" fill="#000"/>
<circle cx="295.2" cy="669.1" r="0.75" fill="#000"/>
<line x1="295.2" y1="680.6" x2="295.2" y2="681.9" stroke="#000" stroke-width="0.4"/>
<text x="295.2" y="686.13" font-size="4.8" text-anchor="middle" fill="#1a1a1a">Others</text>
<text x="270.2" y="691.89" font-size="4.7" text-anchor="middle">Class</text>
<line x1="331" y1="592.5" x2="331" y2="680.6" stroke="#000" stroke-width="0.5"/>
<line x1="330.75" y1="680.6" x2="404.6" y2="680.6" stroke="#000" stroke-width="0.5"/>
<line x1="329.7" y1="679.8" x2="331" y2="679.8" stroke="#000" stroke-width="0.4"/>
<text x="329" y="681.86" font-size="4.6" text-anchor="end" fill="#1a1a1a">0.00</text>
<line x1="329.7" y1="658.6" x2="331" y2="658.6" stroke="#000" stroke-width="0.4"/>
<text x="329" y="660.66" font-size="4.6" text-anchor="end" fill="#1a1a1a">0.25</text>
<line x1="329.7" y1="637.4" x2="331" y2="637.4" stroke="#000" stroke-width="0.4"/>
<text x="329" y="639.46" font-size="4.6" text-anchor="end" fill="#1a1a1a">0.50</text>
<line x1="329.7" y1="616.2" x2="331" y2="616.2" stroke="#000" stroke-width="0.4"/>
<text x="329" y="618.26" font-size="4.6" text-anchor="end" fill="#1a1a1a">0.75</text>
<line x1="329.7" y1="594.8" x2="331" y2="594.8" stroke="#000" stroke-width="0.4"/>
<text x="329" y="596.86" font-size="4.6" text-anchor="end" fill="#1a1a1a">1.00</text>
<text transform="translate(317.79,636.7) rotate(-90)" font-size="4.7" text-anchor="middle">GiniSimpson</text>
<text x="335.4" y="585.79" font-size="4.7">Class</text>
<rect x="349.6" y="582.4" width="4.7" height="3.3" fill="#F5691D" stroke="#333" stroke-width="0.35"/>
<line x1="349.6" y1="584.1" x2="354.3" y2="584.1" stroke="#111" stroke-width="0.4"/>
<text x="356.1" y="585.58" font-size="4.1" class="p">TB</text>
<rect x="364" y="582.4" width="4.7" height="3.3" fill="#3DA543" stroke="#333" stroke-width="0.35"/>
<line x1="364" y1="584.1" x2="368.7" y2="584.1" stroke="#111" stroke-width="0.4"/>
<text x="370.5" y="585.58" font-size="4.1" class="p">NTM</text>
<rect x="382.2" y="582.4" width="4.7" height="3.3" fill="#15389B" stroke="#333" stroke-width="0.35"/>
<line x1="382.2" y1="584.1" x2="386.9" y2="584.1" stroke="#111" stroke-width="0.4"/>
<text x="388.7" y="585.58" font-size="4.1" class="p">Others</text>
<line x1="344.7" y1="596.9" x2="344.7" y2="605.1" stroke="#333" stroke-width="0.45"/>
<line x1="344.7" y1="616.7" x2="344.7" y2="631.4" stroke="#333" stroke-width="0.45"/>
<rect x="336.6" y="605.1" width="16.3" height="11.6" fill="#F5691D" stroke="#222" stroke-width="0.4"/>
<line x1="336.6" y1="609.7" x2="352.9" y2="609.7" stroke="#111" stroke-width="0.7"/>
<circle cx="344.7" cy="613" r="1.9" fill="#000"/>
<circle cx="344.7" cy="634.6" r="0.75" fill="#000"/>
<circle cx="344.7" cy="637.7" r="0.75" fill="#000"/>
<circle cx="344.7" cy="664.5" r="0.75" fill="#000"/>
<line x1="344.7" y1="680.6" x2="344.7" y2="681.9" stroke="#000" stroke-width="0.4"/>
<text x="344.7" y="686.13" font-size="4.8" text-anchor="middle" fill="#1a1a1a">TB</text>
<line x1="367.8" y1="601.3" x2="367.8" y2="604.3" stroke="#333" stroke-width="0.45"/>
<line x1="367.8" y1="613.9" x2="367.8" y2="620.9" stroke="#333" stroke-width="0.45"/>
<rect x="359.6" y="604.3" width="16.3" height="9.6" fill="#3DA543" stroke="#222" stroke-width="0.4"/>
<line x1="359.6" y1="610" x2="375.9" y2="610" stroke="#111" stroke-width="0.7"/>
<circle cx="367.8" cy="614.6" r="1.9" fill="#000"/>
<circle cx="367.8" cy="639.3" r="0.75" fill="#000"/>
<circle cx="367.8" cy="676.1" r="0.75" fill="#000"/>
<line x1="367.8" y1="680.6" x2="367.8" y2="681.9" stroke="#000" stroke-width="0.4"/>
<text x="367.8" y="686.13" font-size="4.8" text-anchor="middle" fill="#1a1a1a">NTM</text>
<line x1="390.6" y1="600.8" x2="390.6" y2="604.4" stroke="#333" stroke-width="0.45"/>
<line x1="390.6" y1="614.9" x2="390.6" y2="625.8" stroke="#333" stroke-width="0.45"/>
<rect x="382.4" y="604.4" width="16.4" height="10.5" fill="#15389B" stroke="#222" stroke-width="0.4"/>
<line x1="382.4" y1="609.5" x2="398.8" y2="609.5" stroke="#111" stroke-width="0.7"/>
<circle cx="390.6" cy="613.2" r="1.9" fill="#000"/>
<circle cx="390.6" cy="638.2" r="0.75" fill="#000"/>
<circle cx="390.6" cy="647.7" r="0.75" fill="#000"/>
<circle cx="390.6" cy="657.7" r="0.75" fill="#000"/>
<circle cx="390.6" cy="665.2" r="0.75" fill="#000"/>
<line x1="390.6" y1="680.6" x2="390.6" y2="681.9" stroke="#000" stroke-width="0.4"/>
<text x="390.6" y="686.13" font-size="4.8" text-anchor="middle" fill="#1a1a1a">Others</text>
<text x="367.8" y="691.89" font-size="4.7" text-anchor="middle">Class</text>
<line x1="430.7" y1="592.5" x2="430.7" y2="680.6" stroke="#000" stroke-width="0.5"/>
<line x1="430.45" y1="680.6" x2="497.8" y2="680.6" stroke="#000" stroke-width="0.5"/>
<line x1="429.4" y1="674.5" x2="430.7" y2="674.5" stroke="#000" stroke-width="0.4"/>
<text x="428.7" y="676.56" font-size="4.6" text-anchor="end" fill="#1a1a1a">0.9980</text>
<line x1="429.4" y1="655.1" x2="430.7" y2="655.1" stroke="#000" stroke-width="0.4"/>
<text x="428.7" y="657.16" font-size="4.6" text-anchor="end" fill="#1a1a1a">0.9985</text>
<line x1="429.4" y1="635.6" x2="430.7" y2="635.6" stroke="#000" stroke-width="0.4"/>
<text x="428.7" y="637.66" font-size="4.6" text-anchor="end" fill="#1a1a1a">0.9990</text>
<line x1="429.4" y1="616.2" x2="430.7" y2="616.2" stroke="#000" stroke-width="0.4"/>
<text x="428.7" y="618.26" font-size="4.6" text-anchor="end" fill="#1a1a1a">0.9995</text>
<line x1="429.4" y1="596.7" x2="430.7" y2="596.7" stroke="#000" stroke-width="0.4"/>
<text x="428.7" y="598.76" font-size="4.6" text-anchor="end" fill="#1a1a1a">1.0000</text>
<text transform="translate(411.89,636.7) rotate(-90)" font-size="4.7" text-anchor="middle">GoodsCoverage</text>
<text x="432.1" y="585.79" font-size="4.7">Class</text>
<rect x="446.4" y="582.4" width="4.7" height="3.3" fill="#F5691D" stroke="#333" stroke-width="0.35"/>
<line x1="446.4" y1="584.1" x2="451.1" y2="584.1" stroke="#111" stroke-width="0.4"/>
<text x="452.9" y="585.58" font-size="4.1" class="p">TB</text>
<rect x="460.8" y="582.4" width="4.7" height="3.3" fill="#3DA543" stroke="#333" stroke-width="0.35"/>
<line x1="460.8" y1="584.1" x2="465.5" y2="584.1" stroke="#111" stroke-width="0.4"/>
<text x="467.3" y="585.58" font-size="4.1" class="p">NTM</text>
<rect x="478.8" y="582.4" width="4.7" height="3.3" fill="#15389B" stroke="#333" stroke-width="0.35"/>
<line x1="478.8" y1="584.1" x2="483.5" y2="584.1" stroke="#111" stroke-width="0.4"/>
<text x="485.3" y="585.58" font-size="4.1" class="p">Others</text>
<line x1="443.3" y1="596.7" x2="443.3" y2="600.2" stroke="#333" stroke-width="0.45"/>
<line x1="443.3" y1="607.2" x2="443.3" y2="613.2" stroke="#333" stroke-width="0.45"/>
<rect x="435.6" y="600.2" width="15.2" height="7" fill="#F5691D" stroke="#222" stroke-width="0.4"/>
<line x1="435.6" y1="603" x2="450.8" y2="603" stroke="#111" stroke-width="0.7"/>
<circle cx="443.3" cy="607.6" r="1.9" fill="#000"/>
<circle cx="443.3" cy="622.3" r="0.75" fill="#000"/>
<circle cx="443.3" cy="629" r="0.75" fill="#000"/>
<circle cx="443.3" cy="633.3" r="0.75" fill="#000"/>
<circle cx="443.3" cy="676.6" r="0.75" fill="#000"/>
<line x1="443.3" y1="680.6" x2="443.3" y2="681.9" stroke="#000" stroke-width="0.4"/>
<text x="443.3" y="686.13" font-size="4.8" text-anchor="middle" fill="#1a1a1a">TB</text>
<line x1="464.3" y1="596.7" x2="464.3" y2="597.4" stroke="#333" stroke-width="0.45"/>
<line x1="464.3" y1="606.9" x2="464.3" y2="618.8" stroke="#333" stroke-width="0.45"/>
<rect x="456.8" y="597.4" width="15" height="9.5" fill="#3DA543" stroke="#222" stroke-width="0.4"/>
<line x1="456.8" y1="599.5" x2="471.8" y2="599.5" stroke="#111" stroke-width="0.7"/>
<circle cx="464.3" cy="603.6" r="1.9" fill="#000"/>
<circle cx="464.3" cy="628.1" r="0.75" fill="#000"/>
<line x1="464.3" y1="680.6" x2="464.3" y2="681.9" stroke="#000" stroke-width="0.4"/>
<text x="464.3" y="686.13" font-size="4.8" text-anchor="middle" fill="#1a1a1a">NTM</text>
<line x1="485.3" y1="596.7" x2="485.3" y2="598" stroke="#333" stroke-width="0.45"/>
<line x1="485.3" y1="607.9" x2="485.3" y2="621.4" stroke="#333" stroke-width="0.45"/>
<rect x="478" y="598" width="14.9" height="9.9" fill="#15389B" stroke="#222" stroke-width="0.4"/>
<line x1="478" y1="600.6" x2="492.9" y2="600.6" stroke="#111" stroke-width="0.7"/>
<circle cx="485.3" cy="603.9" r="1.9" fill="#000"/>
<circle cx="485.3" cy="627" r="0.75" fill="#000"/>
<line x1="485.3" y1="680.6" x2="485.3" y2="681.9" stroke="#000" stroke-width="0.4"/>
<text x="485.3" y="686.13" font-size="4.8" text-anchor="middle" fill="#1a1a1a">Others</text>
<text x="464.3" y="691.89" font-size="4.7" text-anchor="middle">Class</text>
</svg>
</body></html>
